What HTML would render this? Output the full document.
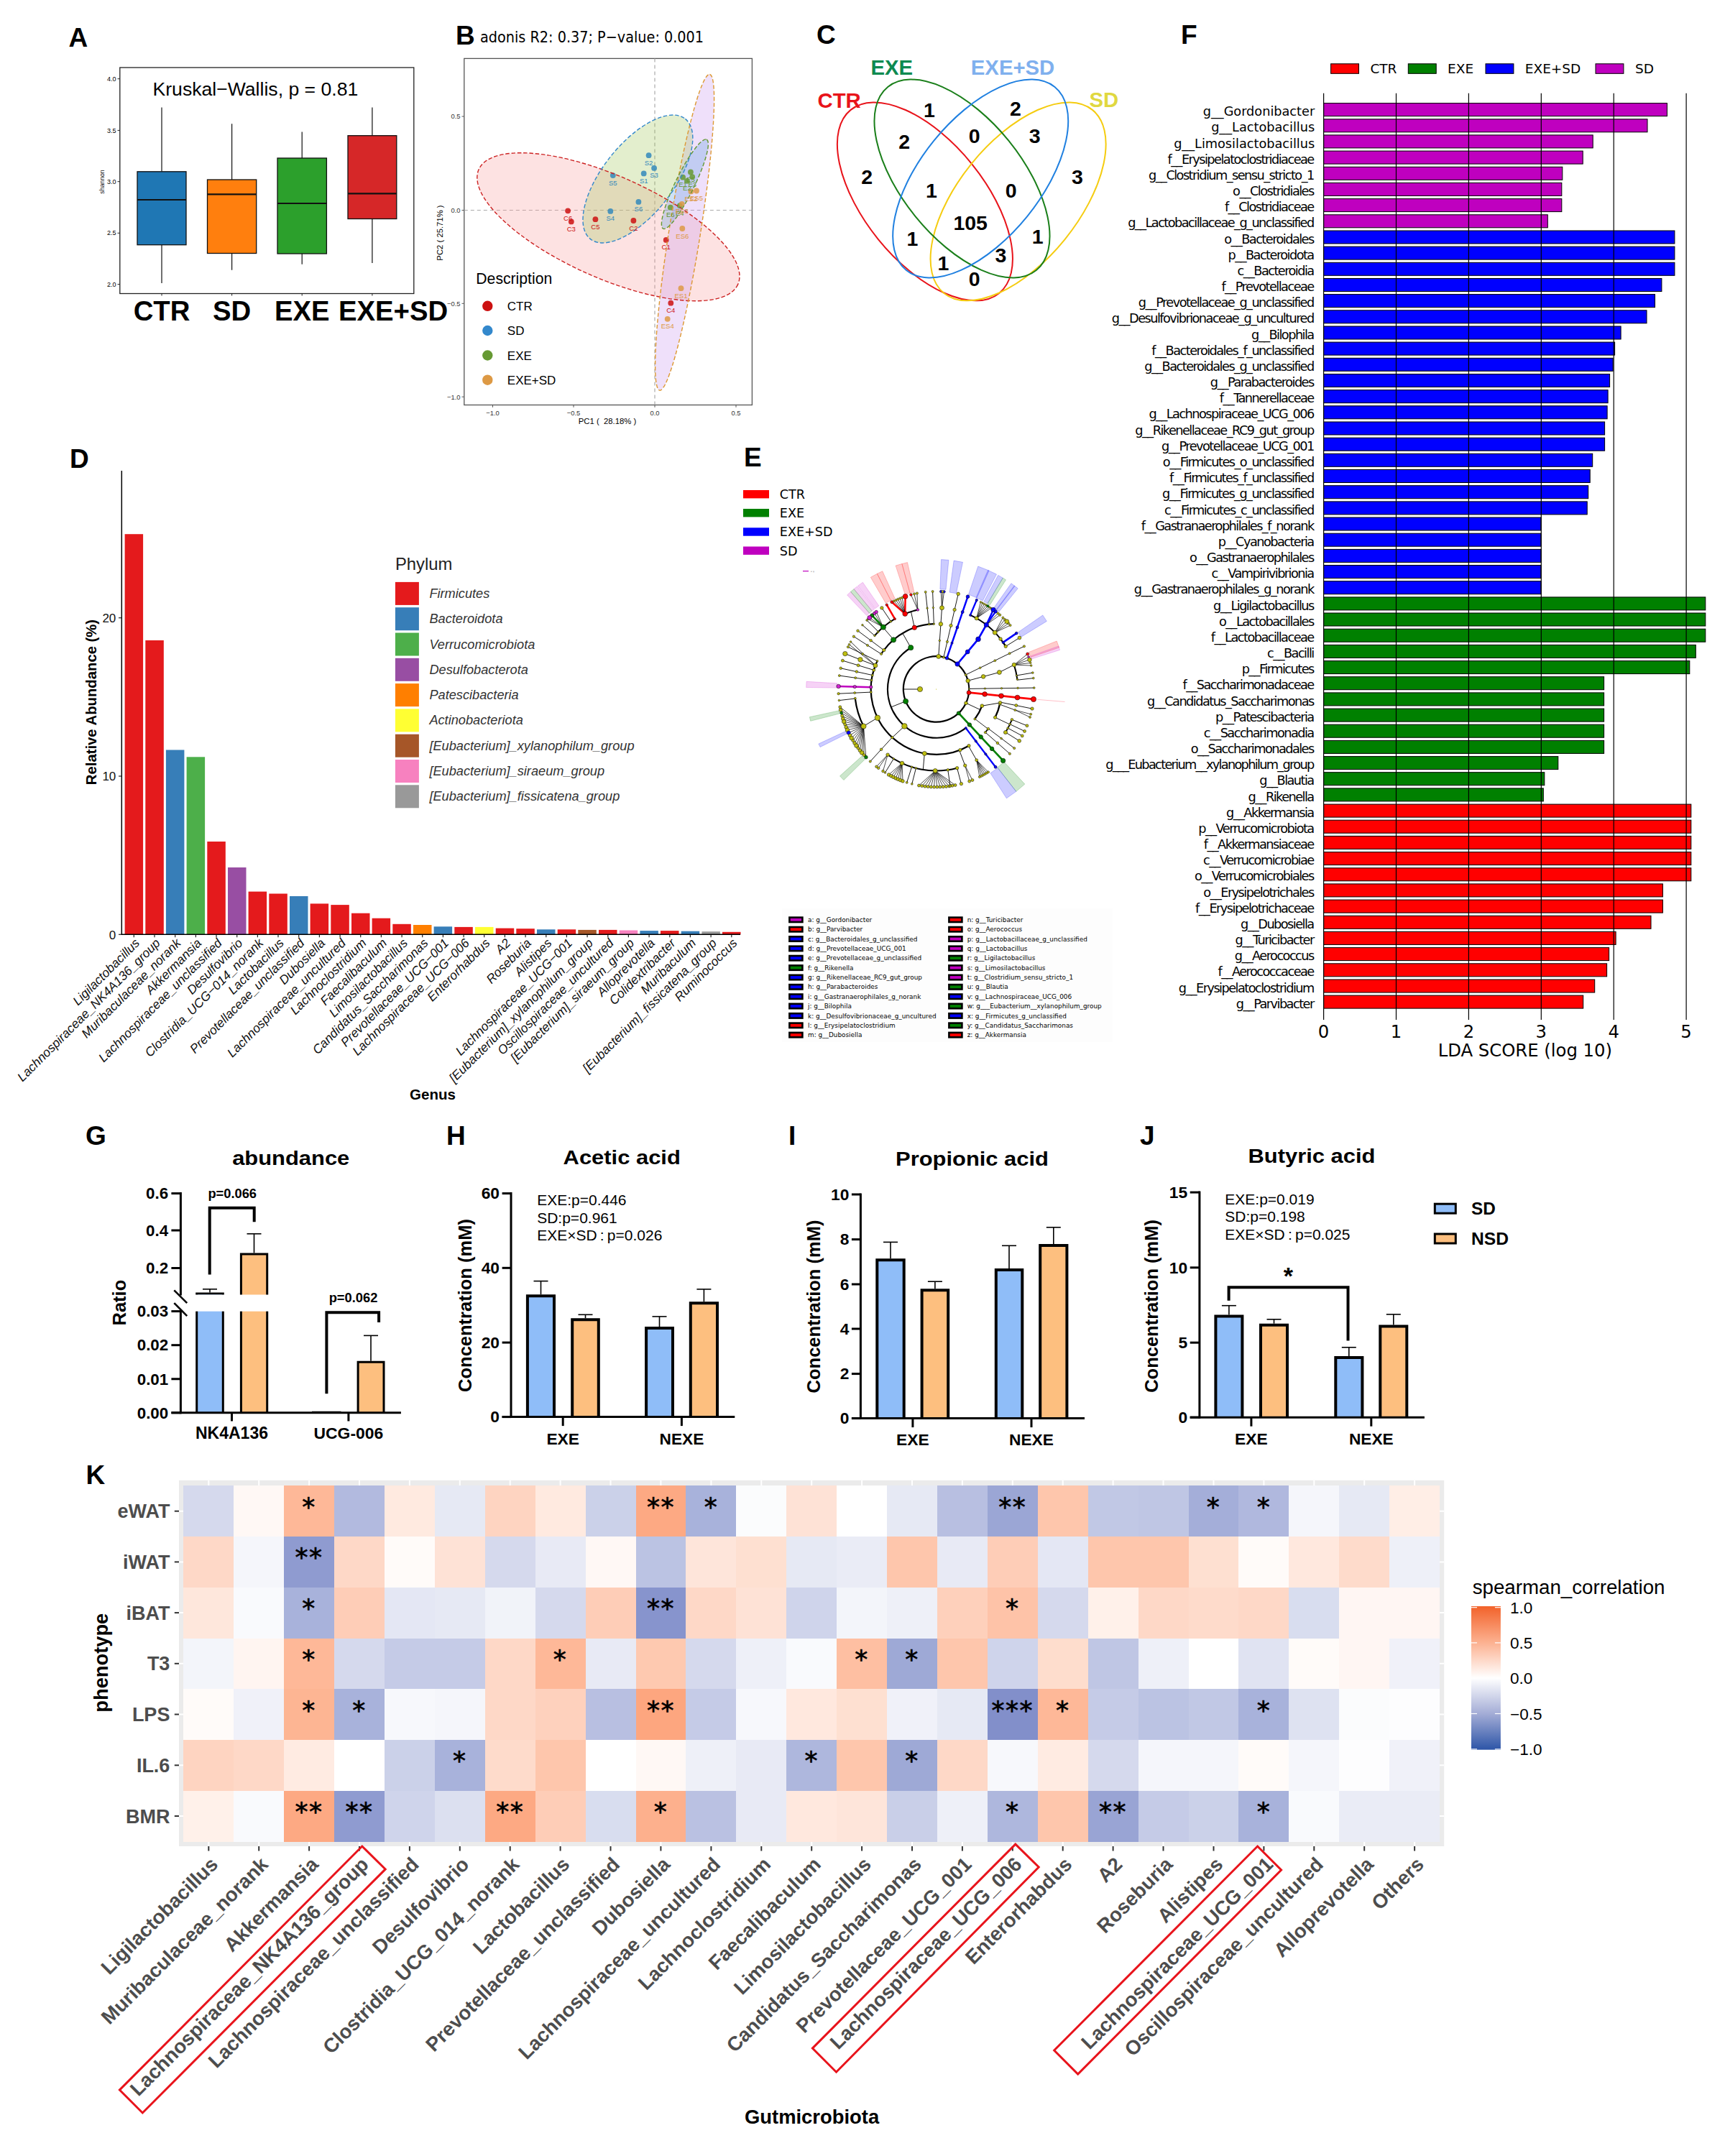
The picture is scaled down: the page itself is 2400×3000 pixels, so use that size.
<!DOCTYPE html>
<html><head><meta charset="utf-8"><title>Figure</title>
<style>html,body{margin:0;padding:0;background:#fff}svg{display:block}</style></head>
<body>
<svg width="2400" height="3000" viewBox="0 0 2400 3000" font-family="Liberation Sans, Arial, sans-serif">
<rect width="2400" height="3000" fill="#fff"/>
<text x="95.5" y="65.0" font-size="37" font-weight="bold">A</text>
<rect x="166.8" y="94.0" width="409.0" height="314.5" fill="#fff" stroke="#222" stroke-width="1.3" />
<line x1="163.5" y1="109.7" x2="166.8" y2="109.7" stroke="#222" stroke-width="1" />
<text x="161.5" y="112.8" font-size="9" text-anchor="end">4.0</text>
<line x1="163.5" y1="181.4" x2="166.8" y2="181.4" stroke="#222" stroke-width="1" />
<text x="161.5" y="184.5" font-size="9" text-anchor="end">3.5</text>
<line x1="163.5" y1="252.7" x2="166.8" y2="252.7" stroke="#222" stroke-width="1" />
<text x="161.5" y="255.8" font-size="9" text-anchor="end">3.0</text>
<line x1="163.5" y1="324.3" x2="166.8" y2="324.3" stroke="#222" stroke-width="1" />
<text x="161.5" y="327.4" font-size="9" text-anchor="end">2.5</text>
<line x1="163.5" y1="395.6" x2="166.8" y2="395.6" stroke="#222" stroke-width="1" />
<text x="161.5" y="398.7" font-size="9" text-anchor="end">2.0</text>
<text x="144.5" y="253.0" font-size="8.7" text-anchor="middle" fill="#111" transform="rotate(-90 144.5 253.0)">shannon</text>
<line x1="225.0" y1="149.4" x2="225.0" y2="238.8" stroke="#111" stroke-width="1.2" />
<line x1="225.0" y1="340.7" x2="225.0" y2="394.0" stroke="#111" stroke-width="1.2" />
<rect x="191.0" y="238.8" width="68.0" height="101.9" fill="#1f77b4" stroke="#111" stroke-width="1.3" />
<line x1="191.0" y1="278.0" x2="259.0" y2="278.0" stroke="#111" stroke-width="2.2" />
<line x1="225.0" y1="408.5" x2="225.0" y2="411.5" stroke="#222" stroke-width="1" />
<line x1="322.6" y1="172.3" x2="322.6" y2="250.0" stroke="#111" stroke-width="1.2" />
<line x1="322.6" y1="352.5" x2="322.6" y2="375.8" stroke="#111" stroke-width="1.2" />
<rect x="288.5" y="250.0" width="68.2" height="102.5" fill="#ff7f0e" stroke="#111" stroke-width="1.3" />
<line x1="288.5" y1="270.4" x2="356.7" y2="270.4" stroke="#111" stroke-width="2.2" />
<line x1="322.6" y1="408.5" x2="322.6" y2="411.5" stroke="#222" stroke-width="1" />
<line x1="420.2" y1="183.5" x2="420.2" y2="220.0" stroke="#111" stroke-width="1.2" />
<line x1="420.2" y1="353.0" x2="420.2" y2="367.8" stroke="#111" stroke-width="1.2" />
<rect x="386.0" y="220.0" width="68.4" height="133.0" fill="#2ca02c" stroke="#111" stroke-width="1.3" />
<line x1="386.0" y1="283.0" x2="454.4" y2="283.0" stroke="#111" stroke-width="2.2" />
<line x1="420.2" y1="408.5" x2="420.2" y2="411.5" stroke="#222" stroke-width="1" />
<line x1="517.9" y1="149.4" x2="517.9" y2="188.7" stroke="#111" stroke-width="1.2" />
<line x1="517.9" y1="304.5" x2="517.9" y2="366.0" stroke="#111" stroke-width="1.2" />
<rect x="484.0" y="188.7" width="67.8" height="115.8" fill="#d62728" stroke="#111" stroke-width="1.3" />
<line x1="484.0" y1="269.4" x2="551.8" y2="269.4" stroke="#111" stroke-width="2.2" />
<line x1="517.9" y1="408.5" x2="517.9" y2="411.5" stroke="#222" stroke-width="1" />
<text x="212.5" y="133.2" font-size="26.6">Kruskal−Wallis, p = 0.81</text>
<text x="225.0" y="446.0" font-size="38.3" text-anchor="middle" font-weight="bold">CTR</text>
<text x="322.6" y="446.0" font-size="38.3" text-anchor="middle" font-weight="bold">SD</text>
<text x="420.2" y="446.0" font-size="38.3" text-anchor="middle" font-weight="bold">EXE</text>
<text x="547.0" y="446.0" font-size="38.3" text-anchor="middle" font-weight="bold">EXE+SD</text>
<text x="634.0" y="62.0" font-size="37" font-weight="bold">B</text>
<text x="668.0" y="59.0" font-size="21.4" font-family="DejaVu Sans Condensed, DejaVu Sans, sans-serif">adonis R2: 0.37; P−value: 0.001</text>
<rect x="645.8" y="81.4" width="400.6" height="482.1" fill="#fff" stroke="#555" stroke-width="1.3" />
<line x1="911.0" y1="81.4" x2="911.0" y2="563.5" stroke="#aaa" stroke-width="1.2" stroke-dasharray="5 4"/>
<line x1="645.8" y1="292.5" x2="1046.4" y2="292.5" stroke="#aaa" stroke-width="1.2" stroke-dasharray="5 4"/>
<ellipse cx="846.4" cy="315.7" rx="197.2" ry="71.1" transform="rotate(23.9 846.4 315.7)" fill="#f8a0a0" fill-opacity="0.3"/>
<ellipse cx="952.6" cy="323.3" rx="222.6" ry="21.9" transform="rotate(-81 952.6 323.3)" fill="#ca98ee" fill-opacity="0.3"/>
<ellipse cx="887.4" cy="249.0" rx="106.5" ry="49.1" transform="rotate(-51.7 887.4 249.0)" fill="#a2c658" fill-opacity="0.3"/>
<ellipse cx="952.9" cy="256.2" rx="69.0" ry="13.2" transform="rotate(-64 952.9 256.2)" fill="#5a9ee0" fill-opacity="0.3"/>
<circle cx="790.1" cy="293.3" r="3.9" fill="#cc1111" fill-opacity="0.85"/>
<circle cx="794.8" cy="308.4" r="3.9" fill="#cc1111" fill-opacity="0.85"/>
<circle cx="828.4" cy="305.2" r="3.9" fill="#cc1111" fill-opacity="0.85"/>
<circle cx="881.4" cy="307.0" r="3.9" fill="#cc1111" fill-opacity="0.85"/>
<circle cx="926.7" cy="333.9" r="3.9" fill="#cc1111" fill-opacity="0.85"/>
<circle cx="933.3" cy="421.7" r="3.9" fill="#cc1111" fill-opacity="0.85"/>
<circle cx="902.6" cy="216.2" r="3.9" fill="#3388bb" fill-opacity="0.85"/>
<circle cx="910.1" cy="233.9" r="3.9" fill="#3388bb" fill-opacity="0.85"/>
<circle cx="895.7" cy="241.4" r="3.9" fill="#3388bb" fill-opacity="0.85"/>
<circle cx="852.8" cy="244.1" r="3.9" fill="#3388bb" fill-opacity="0.85"/>
<circle cx="888.4" cy="280.9" r="3.9" fill="#3388bb" fill-opacity="0.85"/>
<circle cx="849.3" cy="293.9" r="3.9" fill="#3388bb" fill-opacity="0.85"/>
<circle cx="950.1" cy="246.7" r="3.9" fill="#669933" fill-opacity="0.85"/>
<circle cx="960.9" cy="239.4" r="3.9" fill="#669933" fill-opacity="0.85"/>
<circle cx="963.2" cy="246.1" r="3.9" fill="#669933" fill-opacity="0.85"/>
<circle cx="955.9" cy="251.9" r="3.9" fill="#669933" fill-opacity="0.85"/>
<circle cx="932.8" cy="288.7" r="3.9" fill="#669933" fill-opacity="0.85"/>
<circle cx="945.8" cy="286.1" r="3.9" fill="#669933" fill-opacity="0.85"/>
<circle cx="961.4" cy="266.4" r="3.9" fill="#dd9944" fill-opacity="0.85"/>
<circle cx="969.0" cy="265.5" r="3.9" fill="#dd9944" fill-opacity="0.85"/>
<circle cx="948.7" cy="283.8" r="3.9" fill="#dd9944" fill-opacity="0.85"/>
<circle cx="949.3" cy="318.0" r="3.9" fill="#dd9944" fill-opacity="0.85"/>
<circle cx="947.5" cy="401.2" r="3.9" fill="#dd9944" fill-opacity="0.85"/>
<circle cx="928.7" cy="443.8" r="3.9" fill="#dd9944" fill-opacity="0.85"/>
<ellipse cx="846.4" cy="315.7" rx="197.2" ry="71.1" transform="rotate(23.9 846.4 315.7)" fill="none" stroke="#cc2222" stroke-width="1.4" stroke-dasharray="5.5 2.8"/>
<ellipse cx="952.6" cy="323.3" rx="222.6" ry="21.9" transform="rotate(-81 952.6 323.3)" fill="none" stroke="#dd9933" stroke-width="1.4" stroke-dasharray="5.5 2.8"/>
<ellipse cx="887.4" cy="249.0" rx="106.5" ry="49.1" transform="rotate(-51.7 887.4 249.0)" fill="none" stroke="#3388cc" stroke-width="1.4" stroke-dasharray="5.5 2.8"/>
<ellipse cx="952.9" cy="256.2" rx="69.0" ry="13.2" transform="rotate(-64 952.9 256.2)" fill="none" stroke="#669933" stroke-width="1.4" stroke-dasharray="5.5 2.8"/>
<text x="790.1" y="306.8" font-size="9.5" text-anchor="middle" fill="#cc1111">C6</text>
<text x="794.8" y="321.9" font-size="9.5" text-anchor="middle" fill="#cc1111">C3</text>
<text x="828.4" y="318.7" font-size="9.5" text-anchor="middle" fill="#cc1111">C5</text>
<text x="881.4" y="320.5" font-size="9.5" text-anchor="middle" fill="#cc1111">C2</text>
<text x="926.7" y="347.4" font-size="9.5" text-anchor="middle" fill="#cc1111">C1</text>
<text x="933.3" y="435.2" font-size="9.5" text-anchor="middle" fill="#cc1111">C4</text>
<text x="902.6" y="229.7" font-size="9.5" text-anchor="middle" fill="#3388bb">S2</text>
<text x="910.1" y="247.4" font-size="9.5" text-anchor="middle" fill="#3388bb">S3</text>
<text x="895.7" y="254.9" font-size="9.5" text-anchor="middle" fill="#3388bb">S1</text>
<text x="852.8" y="257.6" font-size="9.5" text-anchor="middle" fill="#3388bb">S5</text>
<text x="888.4" y="294.4" font-size="9.5" text-anchor="middle" fill="#3388bb">S6</text>
<text x="849.3" y="307.4" font-size="9.5" text-anchor="middle" fill="#3388bb">S4</text>
<text x="950.1" y="260.2" font-size="9.5" text-anchor="middle" fill="#669933">E1</text>
<text x="960.9" y="252.9" font-size="9.5" text-anchor="middle" fill="#669933">E5</text>
<text x="963.2" y="259.6" font-size="9.5" text-anchor="middle" fill="#669933">E3</text>
<text x="955.9" y="265.4" font-size="9.5" text-anchor="middle" fill="#669933">E2</text>
<text x="932.8" y="302.2" font-size="9.5" text-anchor="middle" fill="#669933">E6</text>
<text x="945.8" y="299.6" font-size="9.5" text-anchor="middle" fill="#669933">E4</text>
<text x="961.4" y="279.9" font-size="9.5" text-anchor="middle" fill="#dd9944">ES2</text>
<text x="969.0" y="279.0" font-size="9.5" text-anchor="middle" fill="#dd9944">ES5</text>
<text x="948.7" y="297.3" font-size="9.5" text-anchor="middle" fill="#dd9944">ES3</text>
<text x="949.3" y="331.5" font-size="9.5" text-anchor="middle" fill="#dd9944">ES6</text>
<text x="947.5" y="414.7" font-size="9.5" text-anchor="middle" fill="#dd9944">ES1</text>
<text x="928.7" y="457.3" font-size="9.5" text-anchor="middle" fill="#dd9944">ES4</text>
<line x1="642.5" y1="162.0" x2="645.8" y2="162.0" stroke="#555" stroke-width="1" />
<text x="640.5" y="165.3" font-size="9.4" text-anchor="end" fill="#333">0.5</text>
<line x1="642.5" y1="292.5" x2="645.8" y2="292.5" stroke="#555" stroke-width="1" />
<text x="640.5" y="295.8" font-size="9.4" text-anchor="end" fill="#333">0.0</text>
<line x1="642.5" y1="422.3" x2="645.8" y2="422.3" stroke="#555" stroke-width="1" />
<text x="640.5" y="425.6" font-size="9.4" text-anchor="end" fill="#333">−0.5</text>
<line x1="642.5" y1="552.2" x2="645.8" y2="552.2" stroke="#555" stroke-width="1" />
<text x="640.5" y="555.5" font-size="9.4" text-anchor="end" fill="#333">−1.0</text>
<line x1="685.5" y1="563.5" x2="685.5" y2="566.8" stroke="#555" stroke-width="1" />
<text x="685.5" y="577.5" font-size="9.4" text-anchor="middle" fill="#333">−1.0</text>
<line x1="798.0" y1="563.5" x2="798.0" y2="566.8" stroke="#555" stroke-width="1" />
<text x="798.0" y="577.5" font-size="9.4" text-anchor="middle" fill="#333">−0.5</text>
<line x1="911.0" y1="563.5" x2="911.0" y2="566.8" stroke="#555" stroke-width="1" />
<text x="911.0" y="577.5" font-size="9.4" text-anchor="middle" fill="#333">0.0</text>
<line x1="1024.0" y1="563.5" x2="1024.0" y2="566.8" stroke="#555" stroke-width="1" />
<text x="1024.0" y="577.5" font-size="9.4" text-anchor="middle" fill="#333">0.5</text>
<text x="845.0" y="590.0" font-size="11.3" text-anchor="middle">PC1 (  28.18% )</text>
<text x="616.0" y="324.0" font-size="11.3" text-anchor="middle" transform="rotate(-90 616.0 324.0)">PC2 ( 25.71% )</text>
<text x="662.3" y="394.5" font-size="21.2">Description</text>
<circle cx="678.3" cy="425.8" r="7.2" fill="#cc1111" />
<text x="705.8" y="431.8" font-size="17">CTR</text>
<circle cx="678.3" cy="460.0" r="7.2" fill="#3388cc" />
<text x="705.8" y="466.0" font-size="17">SD</text>
<circle cx="678.3" cy="494.5" r="7.2" fill="#669933" />
<text x="705.8" y="500.5" font-size="17">EXE</text>
<circle cx="678.3" cy="528.7" r="7.2" fill="#dd9944" />
<text x="705.8" y="534.7" font-size="17">EXE+SD</text>
<text x="1136.0" y="60.5" font-size="37" font-weight="bold">C</text>
<ellipse cx="1286.9" cy="280.4" rx="164.1" ry="83.6" transform="rotate(51 1286.9 280.4)" fill="none" stroke="#e8131a" stroke-width="2" />
<ellipse cx="1416.6" cy="280.4" rx="164.1" ry="83.6" transform="rotate(-51 1416.6 280.4)" fill="none" stroke="#f5cc10" stroke-width="2" />
<ellipse cx="1338.5" cy="248.5" rx="164.1" ry="83.6" transform="rotate(51 1338.5 248.5)" fill="none" stroke="#1a7f1a" stroke-width="2" />
<ellipse cx="1364.2" cy="248.5" rx="164.1" ry="83.6" transform="rotate(-51 1364.2 248.5)" fill="none" stroke="#2080e0" stroke-width="2" />
<text x="1137.5" y="150.0" font-size="29.3" font-weight="bold" fill="#e8131a">CTR</text>
<text x="1211.5" y="104.2" font-size="29.3" font-weight="bold" fill="#0e8a50">EXE</text>
<text x="1350.8" y="104.2" font-size="29.3" font-weight="bold" fill="#7fb0ee">EXE+SD</text>
<text x="1515.4" y="149.4" font-size="29.3" font-weight="bold" fill="#e0d840">SD</text>
<text x="1293.0" y="163.3" font-size="28.5" text-anchor="middle" font-weight="bold">1</text>
<text x="1413.0" y="161.4" font-size="28.5" text-anchor="middle" font-weight="bold">2</text>
<text x="1258.3" y="206.7" font-size="28.5" text-anchor="middle" font-weight="bold">2</text>
<text x="1355.7" y="199.1" font-size="28.5" text-anchor="middle" font-weight="bold">0</text>
<text x="1439.8" y="198.5" font-size="28.5" text-anchor="middle" font-weight="bold">3</text>
<text x="1206.1" y="255.8" font-size="28.5" text-anchor="middle" font-weight="bold">2</text>
<text x="1498.9" y="255.8" font-size="28.5" text-anchor="middle" font-weight="bold">3</text>
<text x="1296.0" y="274.5" font-size="28.5" text-anchor="middle" font-weight="bold">1</text>
<text x="1406.6" y="274.5" font-size="28.5" text-anchor="middle" font-weight="bold">0</text>
<text x="1350.2" y="319.7" font-size="28.5" text-anchor="middle" font-weight="bold">105</text>
<text x="1269.4" y="342.3" font-size="28.5" text-anchor="middle" font-weight="bold">1</text>
<text x="1443.7" y="338.7" font-size="28.5" text-anchor="middle" font-weight="bold">1</text>
<text x="1392.4" y="364.9" font-size="28.5" text-anchor="middle" font-weight="bold">3</text>
<text x="1312.5" y="375.8" font-size="28.5" text-anchor="middle" font-weight="bold">1</text>
<text x="1355.7" y="397.5" font-size="28.5" text-anchor="middle" font-weight="bold">0</text>
<text x="97.0" y="651.0" font-size="37" font-weight="bold">D</text>
<rect x="173.6" y="743.2" width="25.5" height="557.1" fill="#e41a1c" />
<line x1="186.3" y1="1300.3" x2="186.3" y2="1304.3" stroke="#222" stroke-width="1.2" />
<text x="195.3" y="1313.3" font-size="17.5" text-anchor="end" fill="#111" font-style="italic" transform="rotate(-45 195.3 1313.3)">Ligilactobacillus</text>
<rect x="202.3" y="891.0" width="25.5" height="409.3" fill="#e41a1c" />
<line x1="215.0" y1="1300.3" x2="215.0" y2="1304.3" stroke="#222" stroke-width="1.2" />
<text x="224.0" y="1313.3" font-size="17.5" text-anchor="end" fill="#111" font-style="italic" transform="rotate(-45 224.0 1313.3)">Lachnospiraceae_NK4A136_group</text>
<rect x="230.9" y="1043.5" width="25.5" height="256.8" fill="#377eb8" />
<line x1="243.7" y1="1300.3" x2="243.7" y2="1304.3" stroke="#222" stroke-width="1.2" />
<text x="252.7" y="1313.3" font-size="17.5" text-anchor="end" fill="#111" font-style="italic" transform="rotate(-45 252.7 1313.3)">Muribaculaceae_norank</text>
<rect x="259.6" y="1053.3" width="25.5" height="247.0" fill="#4daf4a" />
<line x1="272.4" y1="1300.3" x2="272.4" y2="1304.3" stroke="#222" stroke-width="1.2" />
<text x="281.4" y="1313.3" font-size="17.5" text-anchor="end" fill="#111" font-style="italic" transform="rotate(-45 281.4 1313.3)">Akkermansia</text>
<rect x="288.3" y="1171.0" width="25.5" height="129.3" fill="#e41a1c" />
<line x1="301.0" y1="1300.3" x2="301.0" y2="1304.3" stroke="#222" stroke-width="1.2" />
<text x="310.0" y="1313.3" font-size="17.5" text-anchor="end" fill="#111" font-style="italic" transform="rotate(-45 310.0 1313.3)">Lachnospiraceae_unclassified</text>
<rect x="317.0" y="1207.0" width="25.5" height="93.3" fill="#984ea3" />
<line x1="329.7" y1="1300.3" x2="329.7" y2="1304.3" stroke="#222" stroke-width="1.2" />
<text x="338.7" y="1313.3" font-size="17.5" text-anchor="end" fill="#111" font-style="italic" transform="rotate(-45 338.7 1313.3)">Desulfovibrio</text>
<rect x="345.6" y="1240.6" width="25.5" height="59.7" fill="#e41a1c" />
<line x1="358.4" y1="1300.3" x2="358.4" y2="1304.3" stroke="#222" stroke-width="1.2" />
<text x="367.4" y="1313.3" font-size="17.5" text-anchor="end" fill="#111" font-style="italic" transform="rotate(-45 367.4 1313.3)">Clostridia_UCG−014_norank</text>
<rect x="374.3" y="1243.5" width="25.5" height="56.8" fill="#e41a1c" />
<line x1="387.0" y1="1300.3" x2="387.0" y2="1304.3" stroke="#222" stroke-width="1.2" />
<text x="396.0" y="1313.3" font-size="17.5" text-anchor="end" fill="#111" font-style="italic" transform="rotate(-45 396.0 1313.3)">Lactobacillus</text>
<rect x="403.0" y="1247.0" width="25.5" height="53.3" fill="#377eb8" />
<line x1="415.7" y1="1300.3" x2="415.7" y2="1304.3" stroke="#222" stroke-width="1.2" />
<text x="424.7" y="1313.3" font-size="17.5" text-anchor="end" fill="#111" font-style="italic" transform="rotate(-45 424.7 1313.3)">Prevotellaceae_unclassified</text>
<rect x="431.6" y="1257.4" width="25.5" height="42.9" fill="#e41a1c" />
<line x1="444.4" y1="1300.3" x2="444.4" y2="1304.3" stroke="#222" stroke-width="1.2" />
<text x="453.4" y="1313.3" font-size="17.5" text-anchor="end" fill="#111" font-style="italic" transform="rotate(-45 453.4 1313.3)">Dubosiella</text>
<rect x="460.3" y="1259.1" width="25.5" height="41.2" fill="#e41a1c" />
<line x1="473.1" y1="1300.3" x2="473.1" y2="1304.3" stroke="#222" stroke-width="1.2" />
<text x="482.1" y="1313.3" font-size="17.5" text-anchor="end" fill="#111" font-style="italic" transform="rotate(-45 482.1 1313.3)">Lachnospiraceae_uncultured</text>
<rect x="489.0" y="1270.7" width="25.5" height="29.6" fill="#e41a1c" />
<line x1="501.7" y1="1300.3" x2="501.7" y2="1304.3" stroke="#222" stroke-width="1.2" />
<text x="510.7" y="1313.3" font-size="17.5" text-anchor="end" fill="#111" font-style="italic" transform="rotate(-45 510.7 1313.3)">Lachnoclostridium</text>
<rect x="517.6" y="1277.7" width="25.5" height="22.6" fill="#e41a1c" />
<line x1="530.4" y1="1300.3" x2="530.4" y2="1304.3" stroke="#222" stroke-width="1.2" />
<text x="539.4" y="1313.3" font-size="17.5" text-anchor="end" fill="#111" font-style="italic" transform="rotate(-45 539.4 1313.3)">Faecalibaculum</text>
<rect x="546.3" y="1285.8" width="25.5" height="14.5" fill="#e41a1c" />
<line x1="559.1" y1="1300.3" x2="559.1" y2="1304.3" stroke="#222" stroke-width="1.2" />
<text x="568.1" y="1313.3" font-size="17.5" text-anchor="end" fill="#111" font-style="italic" transform="rotate(-45 568.1 1313.3)">Limosilactobacillus</text>
<rect x="575.0" y="1287.0" width="25.5" height="13.3" fill="#ff7f00" />
<line x1="587.7" y1="1300.3" x2="587.7" y2="1304.3" stroke="#222" stroke-width="1.2" />
<text x="596.7" y="1313.3" font-size="17.5" text-anchor="end" fill="#111" font-style="italic" transform="rotate(-45 596.7 1313.3)">Candidatus_Saccharimonas</text>
<rect x="603.6" y="1289.3" width="25.5" height="11.0" fill="#377eb8" />
<line x1="616.4" y1="1300.3" x2="616.4" y2="1304.3" stroke="#222" stroke-width="1.2" />
<text x="625.4" y="1313.3" font-size="17.5" text-anchor="end" fill="#111" font-style="italic" transform="rotate(-45 625.4 1313.3)">Prevotellaceae_UCG−001</text>
<rect x="632.3" y="1289.9" width="25.5" height="10.4" fill="#e41a1c" />
<line x1="645.1" y1="1300.3" x2="645.1" y2="1304.3" stroke="#222" stroke-width="1.2" />
<text x="654.1" y="1313.3" font-size="17.5" text-anchor="end" fill="#111" font-style="italic" transform="rotate(-45 654.1 1313.3)">Lachnospiraceae_UCG−006</text>
<rect x="661.0" y="1289.9" width="25.5" height="10.4" fill="#ffff33" />
<line x1="673.7" y1="1300.3" x2="673.7" y2="1304.3" stroke="#222" stroke-width="1.2" />
<text x="682.7" y="1313.3" font-size="17.5" text-anchor="end" fill="#111" font-style="italic" transform="rotate(-45 682.7 1313.3)">Enterorhabdus</text>
<rect x="689.7" y="1291.6" width="25.5" height="8.7" fill="#e41a1c" />
<line x1="702.4" y1="1300.3" x2="702.4" y2="1304.3" stroke="#222" stroke-width="1.2" />
<text x="711.4" y="1313.3" font-size="17.5" text-anchor="end" fill="#111" font-style="italic" transform="rotate(-45 711.4 1313.3)">A2</text>
<rect x="718.3" y="1292.2" width="25.5" height="8.1" fill="#e41a1c" />
<line x1="731.1" y1="1300.3" x2="731.1" y2="1304.3" stroke="#222" stroke-width="1.2" />
<text x="740.1" y="1313.3" font-size="17.5" text-anchor="end" fill="#111" font-style="italic" transform="rotate(-45 740.1 1313.3)">Roseburia</text>
<rect x="747.0" y="1293.3" width="25.5" height="7.0" fill="#377eb8" />
<line x1="759.8" y1="1300.3" x2="759.8" y2="1304.3" stroke="#222" stroke-width="1.2" />
<text x="768.8" y="1313.3" font-size="17.5" text-anchor="end" fill="#111" font-style="italic" transform="rotate(-45 768.8 1313.3)">Alistipes</text>
<rect x="775.7" y="1293.3" width="25.5" height="7.0" fill="#e41a1c" />
<line x1="788.4" y1="1300.3" x2="788.4" y2="1304.3" stroke="#222" stroke-width="1.2" />
<text x="797.4" y="1313.3" font-size="17.5" text-anchor="end" fill="#111" font-style="italic" transform="rotate(-45 797.4 1313.3)">Lachnospiraceae_UCG−001</text>
<rect x="804.3" y="1293.9" width="25.5" height="6.4" fill="#a65628" />
<line x1="817.1" y1="1300.3" x2="817.1" y2="1304.3" stroke="#222" stroke-width="1.2" />
<text x="826.1" y="1313.3" font-size="17.5" text-anchor="end" fill="#111" font-style="italic" transform="rotate(-45 826.1 1313.3)">[Eubacterium]_xylanophilum_group</text>
<rect x="833.0" y="1293.9" width="25.5" height="6.4" fill="#e41a1c" />
<line x1="845.8" y1="1300.3" x2="845.8" y2="1304.3" stroke="#222" stroke-width="1.2" />
<text x="854.8" y="1313.3" font-size="17.5" text-anchor="end" fill="#111" font-style="italic" transform="rotate(-45 854.8 1313.3)">Oscillospiraceae_uncultured</text>
<rect x="861.7" y="1294.5" width="25.5" height="5.8" fill="#f781bf" />
<line x1="874.4" y1="1300.3" x2="874.4" y2="1304.3" stroke="#222" stroke-width="1.2" />
<text x="883.4" y="1313.3" font-size="17.5" text-anchor="end" fill="#111" font-style="italic" transform="rotate(-45 883.4 1313.3)">[Eubacterium]_siraeum_group</text>
<rect x="890.4" y="1295.1" width="25.5" height="5.2" fill="#377eb8" />
<line x1="903.1" y1="1300.3" x2="903.1" y2="1304.3" stroke="#222" stroke-width="1.2" />
<text x="912.1" y="1313.3" font-size="17.5" text-anchor="end" fill="#111" font-style="italic" transform="rotate(-45 912.1 1313.3)">Alloprevotella</text>
<rect x="919.0" y="1295.1" width="25.5" height="5.2" fill="#e41a1c" />
<line x1="931.8" y1="1300.3" x2="931.8" y2="1304.3" stroke="#222" stroke-width="1.2" />
<text x="940.8" y="1313.3" font-size="17.5" text-anchor="end" fill="#111" font-style="italic" transform="rotate(-45 940.8 1313.3)">Colidextribacter</text>
<rect x="947.7" y="1295.7" width="25.5" height="4.6" fill="#377eb8" />
<line x1="960.4" y1="1300.3" x2="960.4" y2="1304.3" stroke="#222" stroke-width="1.2" />
<text x="969.4" y="1313.3" font-size="17.5" text-anchor="end" fill="#111" font-style="italic" transform="rotate(-45 969.4 1313.3)">Muribaculum</text>
<rect x="976.4" y="1296.2" width="25.5" height="4.1" fill="#999999" />
<line x1="989.1" y1="1300.3" x2="989.1" y2="1304.3" stroke="#222" stroke-width="1.2" />
<text x="998.1" y="1313.3" font-size="17.5" text-anchor="end" fill="#111" font-style="italic" transform="rotate(-45 998.1 1313.3)">[Eubacterium]_fissicatena_group</text>
<rect x="1005.0" y="1296.8" width="25.5" height="3.5" fill="#e41a1c" />
<line x1="1017.8" y1="1300.3" x2="1017.8" y2="1304.3" stroke="#222" stroke-width="1.2" />
<text x="1026.8" y="1313.3" font-size="17.5" text-anchor="end" fill="#111" font-style="italic" transform="rotate(-45 1026.8 1313.3)">Ruminococcus</text>
<line x1="169.3" y1="655.0" x2="169.3" y2="1301.0" stroke="#000" stroke-width="1.5" />
<line x1="168.5" y1="1300.3" x2="1030.0" y2="1300.3" stroke="#000" stroke-width="1.5" />
<line x1="165.0" y1="859.7" x2="169.0" y2="859.7" stroke="#222" stroke-width="1.2" />
<text x="161.3" y="865.9" font-size="17" text-anchor="end" fill="#111">20</text>
<line x1="165.0" y1="1080.0" x2="169.0" y2="1080.0" stroke="#222" stroke-width="1.2" />
<text x="161.3" y="1086.2" font-size="17" text-anchor="end" fill="#111">10</text>
<line x1="165.0" y1="1300.3" x2="169.0" y2="1300.3" stroke="#222" stroke-width="1.2" />
<text x="161.3" y="1306.5" font-size="17" text-anchor="end" fill="#111">0</text>
<text x="134.4" y="977.0" font-size="20.3" text-anchor="middle" font-weight="bold" transform="rotate(-90 134.4 977.0)">Relative Abundance (%)</text>
<text x="602.0" y="1530.4" font-size="20.5" text-anchor="middle" font-weight="bold">Genus</text>
<text x="549.9" y="793.0" font-size="23.8" fill="#222">Phylum</text>
<rect x="549.9" y="809.9" width="33.0" height="32.0" fill="#e41a1c" />
<text x="597.4" y="831.9" font-size="18.2" fill="#333" font-style="italic">Firmicutes</text>
<rect x="549.9" y="845.2" width="33.0" height="32.0" fill="#377eb8" />
<text x="597.4" y="867.2" font-size="18.2" fill="#333" font-style="italic">Bacteroidota</text>
<rect x="549.9" y="880.5" width="33.0" height="32.0" fill="#4daf4a" />
<text x="597.4" y="902.5" font-size="18.2" fill="#333" font-style="italic">Verrucomicrobiota</text>
<rect x="549.9" y="915.8" width="33.0" height="32.0" fill="#984ea3" />
<text x="597.4" y="937.8" font-size="18.2" fill="#333" font-style="italic">Desulfobacterota</text>
<rect x="549.9" y="951.1" width="33.0" height="32.0" fill="#ff7f00" />
<text x="597.4" y="973.1" font-size="18.2" fill="#333" font-style="italic">Patescibacteria</text>
<rect x="549.9" y="986.4" width="33.0" height="32.0" fill="#ffff33" />
<text x="597.4" y="1008.4" font-size="18.2" fill="#333" font-style="italic">Actinobacteriota</text>
<rect x="549.9" y="1021.7" width="33.0" height="32.0" fill="#a65628" />
<text x="597.4" y="1043.7" font-size="18.2" fill="#333" font-style="italic">[Eubacterium]_xylanophilum_group</text>
<rect x="549.9" y="1057.0" width="33.0" height="32.0" fill="#f781bf" />
<text x="597.4" y="1079.0" font-size="18.2" fill="#333" font-style="italic">[Eubacterium]_siraeum_group</text>
<rect x="549.9" y="1092.3" width="33.0" height="32.0" fill="#999999" />
<text x="597.4" y="1114.3" font-size="18.2" fill="#333" font-style="italic">[Eubacterium]_fissicatena_group</text>
<text x="1035.0" y="648.5" font-size="37" font-weight="bold">E</text>
<rect x="1034.0" y="682.0" width="36.0" height="11.4" fill="#ff0000" />
<text x="1084.8" y="694.0" font-size="17.6" font-family="DejaVu Sans, sans-serif">CTR</text>
<rect x="1034.0" y="708.0" width="36.0" height="11.4" fill="#008000" />
<text x="1084.8" y="720.0" font-size="17.6" font-family="DejaVu Sans, sans-serif">EXE</text>
<rect x="1034.0" y="734.3" width="36.0" height="11.4" fill="#0000ff" />
<text x="1084.8" y="746.3" font-size="17.6" font-family="DejaVu Sans, sans-serif">EXE+SD</text>
<rect x="1034.0" y="760.5" width="36.0" height="11.4" fill="#bf00bf" />
<text x="1084.8" y="772.5" font-size="17.6" font-family="DejaVu Sans, sans-serif">SD</text>
<line x1="1117.0" y1="794.7" x2="1125.0" y2="794.7" stroke="#bf00bf" stroke-width="1.2" />
<text x="1128.0" y="796.0" font-size="2.5" fill="#555" font-family="DejaVu Sans, sans-serif">a: g</text>
<g><line x1="1443.2" y1="973.3" x2="1481.5" y2="976.5" stroke="#ff8090" stroke-width="0.5"/><polygon points="1316.0,820.3 1319.9,779.3 1309.5,778.6 1307.9,819.8" fill="#0000ff" fill-opacity="0.2" stroke="#0000ff" stroke-opacity="0.45" stroke-width="0.5"/><polygon points="1330.4,825.7 1339.5,782.3 1327.1,780.1 1321.1,824.1" fill="#0000ff" fill-opacity="0.2" stroke="#0000ff" stroke-opacity="0.45" stroke-width="0.5"/><polygon points="1359.2,831.8 1376.1,794.0 1360.8,788.0 1347.5,827.2" fill="#0000ff" fill-opacity="0.2" stroke="#0000ff" stroke-opacity="0.45" stroke-width="0.5"/><polygon points="1367.3,835.8 1386.5,799.1 1374.6,793.4 1358.1,831.4" fill="#0000ff" fill-opacity="0.2" stroke="#0000ff" stroke-opacity="0.45" stroke-width="0.5"/><polygon points="1374.0,839.7 1395.3,804.2 1388.7,800.4 1369.0,836.8" fill="#0000ff" fill-opacity="0.2" stroke="#0000ff" stroke-opacity="0.45" stroke-width="0.5"/><polygon points="1377.3,841.7 1399.5,806.8 1395.3,804.2 1374.0,839.7" fill="#008000" fill-opacity="0.2" stroke="#008000" stroke-opacity="0.45" stroke-width="0.5"/><polygon points="1386.9,848.4 1411.9,815.5 1406.9,811.7 1383.0,845.5" fill="#0000ff" fill-opacity="0.2" stroke="#0000ff" stroke-opacity="0.45" stroke-width="0.5"/><polygon points="1390.1,850.9 1416.2,818.8 1411.2,814.9 1386.3,847.9" fill="#0000ff" fill-opacity="0.2" stroke="#0000ff" stroke-opacity="0.45" stroke-width="0.5"/><polygon points="1420.9,886.2 1456.3,864.4 1450.8,856.0 1416.6,879.7" fill="#0000ff" fill-opacity="0.2" stroke="#0000ff" stroke-opacity="0.45" stroke-width="0.5"/><polygon points="1434.1,914.5 1473.6,901.1 1470.2,892.0 1431.5,907.4" fill="#ff0000" fill-opacity="0.2" stroke="#ff0000" stroke-opacity="0.45" stroke-width="0.5"/><polygon points="1434.9,917.0 1474.6,904.4 1472.8,899.1 1433.6,912.9" fill="#d020d0" fill-opacity="0.2" stroke="#d020d0" stroke-opacity="0.45" stroke-width="0.5"/><polygon points="1387.7,1068.0 1413.8,1101.3 1425.8,1091.1 1396.9,1060.1" fill="#008000" fill-opacity="0.2" stroke="#008000" stroke-opacity="0.45" stroke-width="0.5"/><polygon points="1377.9,1075.8 1400.4,1110.8 1413.8,1101.3 1388.2,1068.5" fill="#0000ff" fill-opacity="0.2" stroke="#0000ff" stroke-opacity="0.45" stroke-width="0.5"/><polygon points="1271.8,823.6 1262.5,782.6 1254.9,784.5 1266.0,825.1" fill="#ff0000" fill-opacity="0.2" stroke="#ff0000" stroke-opacity="0.45" stroke-width="0.5"/><polygon points="1266.0,825.1 1254.9,784.5 1246.1,787.1 1259.2,827.1" fill="#ff0000" fill-opacity="0.2" stroke="#ff0000" stroke-opacity="0.45" stroke-width="0.5"/><polygon points="1245.0,832.6 1227.8,794.8 1220.4,798.3 1239.3,835.4" fill="#ff0000" fill-opacity="0.2" stroke="#ff0000" stroke-opacity="0.45" stroke-width="0.5"/><polygon points="1239.3,835.4 1220.4,798.3 1211.3,803.3 1232.3,839.2" fill="#ff0000" fill-opacity="0.2" stroke="#ff0000" stroke-opacity="0.45" stroke-width="0.5"/><polygon points="1209.6,853.2 1183.5,823.4 1178.6,827.9 1205.8,856.6" fill="#d020d0" fill-opacity="0.2" stroke="#d020d0" stroke-opacity="0.45" stroke-width="0.5"/><polygon points="1213.2,850.1 1188.1,819.6 1183.5,823.4 1209.6,853.2" fill="#008000" fill-opacity="0.2" stroke="#008000" stroke-opacity="0.45" stroke-width="0.5"/><polygon points="1216.6,847.4 1192.5,816.0 1188.1,819.6 1213.2,850.1" fill="#d020d0" fill-opacity="0.2" stroke="#d020d0" stroke-opacity="0.45" stroke-width="0.5"/><polygon points="1222.8,842.9 1200.4,810.3 1193.5,815.2 1217.4,846.8" fill="#d020d0" fill-opacity="0.2" stroke="#d020d0" stroke-opacity="0.45" stroke-width="0.5"/><polygon points="1164.9,950.8 1122.0,948.3 1121.7,956.5 1164.7,957.1" fill="#d020d0" fill-opacity="0.2" stroke="#d020d0" stroke-opacity="0.45" stroke-width="0.5"/><polygon points="1166.8,988.9 1126.4,997.7 1127.7,1003.3 1167.8,993.1" fill="#008000" fill-opacity="0.2" stroke="#008000" stroke-opacity="0.45" stroke-width="0.5"/><polygon points="1176.5,1017.5 1138.9,1035.0 1141.1,1039.5 1178.2,1021.0" fill="#0000ff" fill-opacity="0.2" stroke="#0000ff" stroke-opacity="0.45" stroke-width="0.5"/><polygon points="1199.2,1052.1 1168.5,1079.8 1173.9,1085.5 1203.4,1056.5" fill="#008000" fill-opacity="0.2" stroke="#008000" stroke-opacity="0.45" stroke-width="0.5"/></g>
<g stroke-linecap="round"><line x1="1280.0" y1="959.0" x2="1256.9" y2="959.0" stroke="#000" stroke-width="0.9"/><path d="M1346.5,946.4 A45.7,45.7 0 1 0 1347.9,964.6" fill="none" stroke="#000" stroke-width="2.2"/><path d="M1347.9,964.6 A45.7,45.7 0 0 0 1346.5,946.4" fill="none" stroke="#000" stroke-width="2.0"/><line x1="1305.8" y1="913.4" x2="1310.5" y2="845.8" stroke="#000" stroke-width="0.9"/><line x1="1310.5" y1="845.8" x2="1309.2" y2="823.1" stroke="#000" stroke-width="0.7"/><line x1="1310.5" y1="845.8" x2="1313.5" y2="823.3" stroke="#000" stroke-width="0.7"/><line x1="1310.5" y1="845.8" x2="1311.4" y2="823.2" stroke="#000" stroke-width="0.7"/><line x1="1312.9" y1="914.5" x2="1333.2" y2="826.4" stroke="#000" stroke-width="0.9"/><line x1="1317.3" y1="915.8" x2="1346.5" y2="830.2" stroke="#0000ff" stroke-width="2.5"/><line x1="1332.0" y1="924.0" x2="1361.0" y2="889.4" stroke="#0000ff" stroke-width="2.7"/><line x1="1361.0" y1="889.4" x2="1372.3" y2="869.4" stroke="#0000ff" stroke-width="2.7"/><path d="M1395.6,893.9 A113.5,113.5 0 0 0 1350.0,855.9" fill="none" stroke="#000" stroke-width="2.0"/><line x1="1350.0" y1="855.9" x2="1358.8" y2="835.0" stroke="#0000ff" stroke-width="2.3"/><line x1="1358.7" y1="860.3" x2="1364.4" y2="837.7" stroke="#000" stroke-width="0.7"/><line x1="1358.7" y1="860.3" x2="1366.9" y2="839.0" stroke="#000" stroke-width="0.7"/><line x1="1358.7" y1="860.3" x2="1369.4" y2="840.4" stroke="#000" stroke-width="0.7"/><line x1="1358.7" y1="860.3" x2="1371.9" y2="841.8" stroke="#000" stroke-width="0.7"/><line x1="1358.7" y1="860.3" x2="1376.7" y2="844.9" stroke="#000" stroke-width="0.7"/><line x1="1358.7" y1="860.3" x2="1378.9" y2="846.3" stroke="#000" stroke-width="0.7"/><line x1="1358.7" y1="860.3" x2="1374.3" y2="843.3" stroke="#000" stroke-width="0.8"/><line x1="1372.3" y1="869.4" x2="1382.0" y2="848.5" stroke="#0000ff" stroke-width="2.3"/><line x1="1372.3" y1="869.4" x2="1385.3" y2="850.9" stroke="#0000ff" stroke-width="2.3"/><line x1="1372.3" y1="869.4" x2="1388.6" y2="853.5" stroke="#000" stroke-width="0.7"/><line x1="1372.3" y1="869.4" x2="1391.2" y2="855.7" stroke="#000" stroke-width="0.7"/><line x1="1384.2" y1="880.2" x2="1395.4" y2="859.5" stroke="#000" stroke-width="0.7"/><line x1="1384.2" y1="880.2" x2="1398.0" y2="861.9" stroke="#000" stroke-width="0.7"/><line x1="1384.2" y1="880.2" x2="1403.3" y2="867.4" stroke="#000" stroke-width="0.7"/><line x1="1384.2" y1="880.2" x2="1405.6" y2="870.1" stroke="#000" stroke-width="0.7"/><line x1="1384.2" y1="880.2" x2="1400.8" y2="864.8" stroke="#000" stroke-width="0.7"/><line x1="1395.6" y1="893.9" x2="1414.2" y2="881.1" stroke="#0000ff" stroke-width="2.5"/><line x1="1399.2" y1="899.4" x2="1418.4" y2="887.5" stroke="#000" stroke-width="0.9"/><line x1="1395.6" y1="893.9" x2="1399.2" y2="899.4" stroke="#000" stroke-width="2.0"/><path d="M1399.2,899.4 A113.5,113.5 0 0 0 1395.6,893.9" fill="none" stroke="#000" stroke-width="2.0"/><line x1="1343.6" y1="939.0" x2="1424.9" y2="899.3" stroke="#000" stroke-width="0.9"/><line x1="1346.7" y1="947.2" x2="1390.4" y2="935.5" stroke="#000" stroke-width="0.9"/><line x1="1390.4" y1="935.5" x2="1410.9" y2="925.1" stroke="#000" stroke-width="0.9"/><path d="M1415.3,945.2 A113.5,113.5 0 0 0 1410.9,925.1" fill="none" stroke="#000" stroke-width="2.0"/><line x1="1410.9" y1="925.1" x2="1433.7" y2="922.4" stroke="#000" stroke-width="0.7"/><line x1="1410.9" y1="925.1" x2="1434.7" y2="926.1" stroke="#000" stroke-width="0.7"/><line x1="1410.9" y1="925.1" x2="1429.6" y2="910.0" stroke="#000" stroke-width="0.7"/><line x1="1410.9" y1="925.1" x2="1431.1" y2="914.0" stroke="#000" stroke-width="0.7"/><line x1="1410.9" y1="925.1" x2="1432.4" y2="918.1" stroke="#000" stroke-width="0.7"/><line x1="1414.5" y1="939.9" x2="1436.8" y2="936.1" stroke="#000" stroke-width="0.9"/><line x1="1415.4" y1="946.2" x2="1437.8" y2="943.6" stroke="#000" stroke-width="0.9"/><line x1="1348.3" y1="958.4" x2="1438.7" y2="957.1" stroke="#000" stroke-width="0.9"/><line x1="1348.0" y1="963.7" x2="1438.0" y2="972.9" stroke="#ff0000" stroke-width="2.7"/><line x1="1344.0" y1="978.3" x2="1364.1" y2="987.7" stroke="#000" stroke-width="0.9"/><path d="M1356.3,1000.5 A67.8,67.8 0 0 0 1366.3,982.2" fill="none" stroke="#000" stroke-width="2.3"/><line x1="1366.3" y1="982.2" x2="1391.5" y2="977.9" stroke="#000" stroke-width="0.9"/><path d="M1384.6,998.3 A90.9,90.9 0 0 0 1391.5,977.9" fill="none" stroke="#000" stroke-width="2.3"/><line x1="1391.7" y1="977.1" x2="1436.0" y2="986.1" stroke="#000" stroke-width="0.9"/><line x1="1391.0" y1="980.2" x2="1412.3" y2="988.0" stroke="#000" stroke-width="0.85"/><line x1="1412.3" y1="988.0" x2="1434.2" y2="993.8" stroke="#000" stroke-width="0.7"/><line x1="1412.3" y1="988.0" x2="1433.0" y2="997.9" stroke="#000" stroke-width="0.7"/><line x1="1384.6" y1="998.3" x2="1405.0" y2="1008.0" stroke="#000" stroke-width="0.85"/><path d="M1399.1,1018.8 A113.5,113.5 0 0 0 1407.9,1001.3" fill="none" stroke="#000" stroke-width="1.8"/><line x1="1407.9" y1="1001.3" x2="1428.9" y2="1009.8" stroke="#000" stroke-width="0.9"/><line x1="1405.1" y1="1007.7" x2="1425.5" y2="1017.4" stroke="#000" stroke-width="0.9"/><line x1="1402.3" y1="1013.2" x2="1422.2" y2="1023.9" stroke="#000" stroke-width="0.9"/><line x1="1399.0" y1="1019.0" x2="1418.2" y2="1030.9" stroke="#000" stroke-width="0.9"/><line x1="1356.4" y1="1000.3" x2="1374.7" y2="1014.3" stroke="#000" stroke-width="0.85"/><path d="M1370.8,1019.1 A90.9,90.9 0 0 0 1374.9,1014.1" fill="none" stroke="#000" stroke-width="1.7"/><line x1="1375.1" y1="1013.8" x2="1411.2" y2="1041.1" stroke="#000" stroke-width="0.9"/><line x1="1370.9" y1="1019.0" x2="1404.9" y2="1048.8" stroke="#000" stroke-width="0.9"/><line x1="1333.8" y1="992.3" x2="1395.6" y2="1058.4" stroke="#008000" stroke-width="2.7"/><line x1="1260.1" y1="975.8" x2="1239.5" y2="984.0" stroke="#000" stroke-width="0.9"/><path d="M1267.2,901.2 A67.8,67.8 0 1 0 1343.8,1012.9" fill="none" stroke="#000" stroke-width="2.2"/><line x1="1343.7" y1="1013.0" x2="1385.1" y2="1067.3" stroke="#0000ff" stroke-width="2.3"/><line x1="1267.2" y1="901.2" x2="1255.8" y2="881.1" stroke="#000" stroke-width="0.9"/><path d="M1299.4,868.2 A90.9,90.9 0 0 0 1229.8,904.6" fill="none" stroke="#000" stroke-width="2.2"/><line x1="1299.3" y1="868.2" x2="1297.6" y2="823.0" stroke="#000" stroke-width="0.9"/><line x1="1292.6" y1="868.7" x2="1287.7" y2="823.7" stroke="#000" stroke-width="0.9"/><line x1="1272.3" y1="873.3" x2="1267.5" y2="851.1" stroke="#000" stroke-width="0.9"/><path d="M1276.9,848.5 A113.5,113.5 0 0 0 1259.2,854.1" fill="none" stroke="#000" stroke-width="2.0"/><line x1="1259.2" y1="854.1" x2="1259.6" y2="829.9" stroke="#ff0000" stroke-width="2.5"/><line x1="1259.2" y1="854.1" x2="1240.8" y2="837.7" stroke="#ff0000" stroke-width="2.5"/><line x1="1259.2" y1="854.1" x2="1243.8" y2="836.3" stroke="#000" stroke-width="0.7"/><line x1="1259.2" y1="854.1" x2="1246.6" y2="835.0" stroke="#000" stroke-width="0.7"/><line x1="1259.2" y1="854.1" x2="1249.4" y2="833.7" stroke="#000" stroke-width="0.7"/><line x1="1259.2" y1="854.1" x2="1252.3" y2="832.5" stroke="#000" stroke-width="0.7"/><line x1="1259.2" y1="854.1" x2="1255.2" y2="831.4" stroke="#000" stroke-width="0.7"/><line x1="1276.9" y1="848.5" x2="1272.0" y2="826.4" stroke="#000" stroke-width="0.7"/><line x1="1276.9" y1="848.5" x2="1275.9" y2="825.5" stroke="#000" stroke-width="0.7"/><line x1="1276.9" y1="848.5" x2="1267.4" y2="827.5" stroke="#000" stroke-width="0.7"/><line x1="1243.3" y1="890.1" x2="1228.6" y2="873.0" stroke="#000" stroke-width="0.9"/><path d="M1245.0,861.2 A113.5,113.5 0 0 0 1216.9,884.5" fill="none" stroke="#000" stroke-width="2.0"/><line x1="1245.0" y1="861.2" x2="1233.7" y2="841.6" stroke="#ff0000" stroke-width="2.5"/><line x1="1239.5" y1="864.7" x2="1226.9" y2="845.9" stroke="#000" stroke-width="0.9"/><line x1="1228.9" y1="872.7" x2="1213.3" y2="856.3" stroke="#008000" stroke-width="2.5"/><line x1="1228.9" y1="872.7" x2="1209.8" y2="859.5" stroke="#000" stroke-width="0.7"/><line x1="1228.9" y1="872.7" x2="1216.6" y2="853.5" stroke="#000" stroke-width="0.7"/><line x1="1228.9" y1="872.7" x2="1219.2" y2="851.5" stroke="#000" stroke-width="0.7"/><line x1="1228.9" y1="872.7" x2="1207.7" y2="861.4" stroke="#000" stroke-width="0.7"/><line x1="1222.1" y1="879.0" x2="1206.0" y2="863.1" stroke="#000" stroke-width="0.9"/><line x1="1216.9" y1="884.5" x2="1199.9" y2="869.7" stroke="#000" stroke-width="0.9"/><line x1="1229.7" y1="904.7" x2="1193.5" y2="877.7" stroke="#000" stroke-width="0.9"/><line x1="1226.0" y1="910.0" x2="1187.9" y2="885.7" stroke="#000" stroke-width="0.9"/><path d="M1229.8,904.6 A90.9,90.9 0 0 0 1226.1,909.9" fill="none" stroke="#000" stroke-width="2.0"/><line x1="1258.4" y1="1010.4" x2="1241.4" y2="1026.2" stroke="#000" stroke-width="0.9"/><path d="M1217.9,926.0 A90.9,90.9 0 0 0 1348.0,1037.7" fill="none" stroke="#000" stroke-width="2.2"/><line x1="1217.9" y1="926.0" x2="1175.8" y2="909.6" stroke="#000" stroke-width="0.9"/><line x1="1220.6" y1="919.7" x2="1179.9" y2="900.2" stroke="#000" stroke-width="0.9"/><line x1="1215.7" y1="932.4" x2="1172.4" y2="919.2" stroke="#000" stroke-width="0.9"/><line x1="1213.8" y1="939.5" x2="1169.7" y2="929.8" stroke="#000" stroke-width="0.9"/><line x1="1212.6" y1="946.4" x2="1167.8" y2="940.1" stroke="#000" stroke-width="0.9"/><line x1="1211.8" y1="963.1" x2="1166.6" y2="965.2" stroke="#000" stroke-width="0.9"/><path d="M1220.6,919.7 A90.9,90.9 0 0 0 1217.9,926.0" fill="none" stroke="#000" stroke-width="2.0"/><line x1="1217.9" y1="926.0" x2="1183.6" y2="893.0" stroke="#000" stroke-width="0.8"/><line x1="1217.9" y1="926.0" x2="1181.5" y2="896.8" stroke="#000" stroke-width="0.8"/><line x1="1211.8" y1="956.3" x2="1166.6" y2="955.0" stroke="#bf00bf" stroke-width="2.5"/><line x1="1220.9" y1="998.8" x2="1201.5" y2="1010.5" stroke="#000" stroke-width="0.9"/><path d="M1189.8,971.8 A113.5,113.5 0 0 0 1201.5,1010.5" fill="none" stroke="#000" stroke-width="2.2"/><line x1="1189.9" y1="972.0" x2="1167.4" y2="974.6" stroke="#000" stroke-width="0.9"/><line x1="1201.5" y1="1010.5" x2="1168.8" y2="983.8" stroke="#000" stroke-width="0.7"/><line x1="1201.5" y1="1010.5" x2="1169.6" y2="987.9" stroke="#000" stroke-width="0.7"/><line x1="1201.5" y1="1010.5" x2="1170.6" y2="992.0" stroke="#000" stroke-width="0.7"/><line x1="1201.5" y1="1010.5" x2="1171.6" y2="996.1" stroke="#000" stroke-width="0.7"/><line x1="1201.5" y1="1010.5" x2="1172.8" y2="1000.1" stroke="#000" stroke-width="0.7"/><line x1="1201.5" y1="1010.5" x2="1174.2" y2="1004.1" stroke="#000" stroke-width="0.7"/><line x1="1201.5" y1="1010.5" x2="1175.6" y2="1008.0" stroke="#000" stroke-width="0.7"/><line x1="1201.5" y1="1010.5" x2="1177.2" y2="1011.9" stroke="#000" stroke-width="0.7"/><line x1="1201.5" y1="1010.5" x2="1178.9" y2="1015.8" stroke="#000" stroke-width="0.7"/><line x1="1201.5" y1="1010.5" x2="1180.7" y2="1019.6" stroke="#000" stroke-width="0.7"/><line x1="1201.5" y1="1010.5" x2="1182.6" y2="1023.3" stroke="#000" stroke-width="0.7"/><line x1="1201.5" y1="1010.5" x2="1184.7" y2="1027.0" stroke="#000" stroke-width="0.7"/><line x1="1201.5" y1="1010.5" x2="1186.8" y2="1030.6" stroke="#000" stroke-width="0.7"/><line x1="1201.5" y1="1010.5" x2="1189.1" y2="1034.1" stroke="#000" stroke-width="0.7"/><line x1="1201.5" y1="1010.5" x2="1191.5" y2="1037.6" stroke="#000" stroke-width="0.7"/><line x1="1201.5" y1="1010.5" x2="1193.9" y2="1041.0" stroke="#000" stroke-width="0.7"/><line x1="1201.5" y1="1010.5" x2="1196.5" y2="1044.3" stroke="#000" stroke-width="0.7"/><line x1="1201.5" y1="1010.5" x2="1199.2" y2="1047.5" stroke="#000" stroke-width="0.7"/><line x1="1201.5" y1="1010.5" x2="1202.0" y2="1050.7" stroke="#000" stroke-width="0.7"/><line x1="1201.5" y1="1010.5" x2="1204.9" y2="1053.7" stroke="#000" stroke-width="0.7"/><line x1="1241.3" y1="1026.1" x2="1210.8" y2="1059.5" stroke="#000" stroke-width="0.9"/><line x1="1286.3" y1="1048.4" x2="1284.3" y2="1071.0" stroke="#000" stroke-width="0.9"/><path d="M1235.1,1050.2 A113.5,113.5 0 0 0 1331.6,1068.7" fill="none" stroke="#000" stroke-width="2.0"/><line x1="1235.1" y1="1050.2" x2="1219.4" y2="1066.7" stroke="#000" stroke-width="0.7"/><line x1="1235.1" y1="1050.2" x2="1222.2" y2="1068.8" stroke="#000" stroke-width="0.7"/><line x1="1235.1" y1="1050.2" x2="1228.5" y2="1073.1" stroke="#000" stroke-width="0.7"/><line x1="1243.3" y1="1055.8" x2="1231.5" y2="1075.1" stroke="#000" stroke-width="0.9"/><line x1="1255.0" y1="1062.0" x2="1236.6" y2="1078.0" stroke="#000" stroke-width="0.7"/><line x1="1255.0" y1="1062.0" x2="1239.8" y2="1079.7" stroke="#000" stroke-width="0.7"/><line x1="1255.0" y1="1062.0" x2="1242.9" y2="1081.3" stroke="#000" stroke-width="0.7"/><line x1="1255.0" y1="1062.0" x2="1246.2" y2="1082.9" stroke="#000" stroke-width="0.7"/><line x1="1255.0" y1="1062.0" x2="1249.4" y2="1084.3" stroke="#000" stroke-width="0.7"/><line x1="1255.0" y1="1062.0" x2="1252.7" y2="1085.6" stroke="#000" stroke-width="0.7"/><line x1="1255.0" y1="1062.0" x2="1256.0" y2="1086.9" stroke="#000" stroke-width="0.7"/><line x1="1268.5" y1="1067.2" x2="1261.7" y2="1088.8" stroke="#000" stroke-width="0.9"/><line x1="1274.4" y1="1068.9" x2="1268.8" y2="1090.8" stroke="#000" stroke-width="0.9"/><line x1="1301.2" y1="1072.5" x2="1278.5" y2="1093.0" stroke="#000" stroke-width="0.7"/><line x1="1301.2" y1="1072.5" x2="1282.7" y2="1093.6" stroke="#000" stroke-width="0.7"/><line x1="1301.2" y1="1072.5" x2="1286.9" y2="1094.2" stroke="#000" stroke-width="0.7"/><line x1="1301.2" y1="1072.5" x2="1291.1" y2="1094.6" stroke="#000" stroke-width="0.7"/><line x1="1301.2" y1="1072.5" x2="1295.3" y2="1094.9" stroke="#000" stroke-width="0.7"/><line x1="1301.2" y1="1072.5" x2="1299.6" y2="1095.1" stroke="#000" stroke-width="0.7"/><line x1="1301.2" y1="1072.5" x2="1303.8" y2="1095.1" stroke="#000" stroke-width="0.7"/><line x1="1301.2" y1="1072.5" x2="1308.0" y2="1095.0" stroke="#000" stroke-width="0.7"/><line x1="1301.2" y1="1072.5" x2="1312.3" y2="1094.8" stroke="#000" stroke-width="0.7"/><line x1="1301.2" y1="1072.5" x2="1316.5" y2="1094.4" stroke="#000" stroke-width="0.7"/><line x1="1301.2" y1="1072.5" x2="1320.7" y2="1093.9" stroke="#000" stroke-width="0.7"/><line x1="1301.2" y1="1072.5" x2="1324.9" y2="1093.3" stroke="#000" stroke-width="0.7"/><line x1="1301.2" y1="1072.5" x2="1329.0" y2="1092.5" stroke="#000" stroke-width="0.7"/><line x1="1318.8" y1="1071.3" x2="1322.0" y2="1093.7" stroke="#000" stroke-width="0.9"/><line x1="1331.6" y1="1068.7" x2="1337.4" y2="1090.6" stroke="#000" stroke-width="0.9"/><line x1="1334.7" y1="1044.0" x2="1342.7" y2="1065.2" stroke="#000" stroke-width="0.9"/><line x1="1342.7" y1="1065.2" x2="1348.7" y2="1087.1" stroke="#000" stroke-width="0.7"/><line x1="1342.7" y1="1065.2" x2="1352.9" y2="1085.5" stroke="#000" stroke-width="0.7"/><line x1="1347.5" y1="1038.0" x2="1358.7" y2="1057.7" stroke="#000" stroke-width="0.9"/><line x1="1358.7" y1="1057.7" x2="1362.9" y2="1081.0" stroke="#000" stroke-width="0.7"/><line x1="1358.7" y1="1057.7" x2="1365.4" y2="1079.8" stroke="#000" stroke-width="0.7"/><line x1="1358.7" y1="1057.7" x2="1367.8" y2="1078.5" stroke="#000" stroke-width="0.7"/><line x1="1358.7" y1="1057.7" x2="1370.2" y2="1077.1" stroke="#000" stroke-width="0.7"/><line x1="1358.7" y1="1057.7" x2="1372.6" y2="1075.7" stroke="#000" stroke-width="0.7"/><line x1="1358.7" y1="1057.7" x2="1374.9" y2="1074.3" stroke="#000" stroke-width="0.7"/></g>
<g><circle cx="1302.6" cy="959.0" r="0.6" fill="#bfbf10"/><circle cx="1280.0" cy="959.0" r="3.6" fill="#bfbf10" stroke="#000" stroke-width="0.5"/><circle cx="1305.8" cy="913.4" r="3.0" fill="#bfbf10" stroke="#000" stroke-width="0.5"/><circle cx="1312.9" cy="914.5" r="1.6" fill="#bfbf10" stroke="#000" stroke-width="0.5"/><circle cx="1317.5" cy="915.8" r="2.3" fill="#0000ff" stroke="#000" stroke-width="0.5"/><circle cx="1332.0" cy="924.0" r="3.2" fill="#0000ff" stroke="#000" stroke-width="0.5"/><circle cx="1343.6" cy="939.0" r="1.5" fill="#bfbf10" stroke="#000" stroke-width="0.5"/><circle cx="1346.7" cy="947.2" r="2.8" fill="#bfbf10" stroke="#000" stroke-width="0.5"/><circle cx="1348.0" cy="963.8" r="3.0" fill="#ff0000" stroke="#000" stroke-width="0.5"/><circle cx="1344.0" cy="978.3" r="2.4" fill="#bfbf10" stroke="#000" stroke-width="0.5"/><circle cx="1333.7" cy="992.4" r="2.6" fill="#008000" stroke="#000" stroke-width="0.5"/><circle cx="1260.1" cy="975.8" r="3.6" fill="#008000" stroke="#000" stroke-width="0.5"/><circle cx="1348.3" cy="958.4" r="1.0" fill="#bfbf10" stroke="#000" stroke-width="0.5"/><circle cx="1307.3" cy="891.3" r="1.3" fill="#bfbf10" stroke="#000" stroke-width="0.5"/><circle cx="1308.9" cy="868.3" r="2.8" fill="#bfbf10" stroke="#000" stroke-width="0.5"/><circle cx="1310.5" cy="845.8" r="3.0" fill="#bfbf10" stroke="#000" stroke-width="0.5"/><circle cx="1309.2" cy="823.1" r="1.8" fill="#0000ff" stroke="#000" stroke-width="0.5"/><circle cx="1313.5" cy="823.3" r="1.8" fill="#0000ff" stroke="#000" stroke-width="0.5"/><circle cx="1311.4" cy="823.2" r="1.6" fill="#bfbf10" stroke="#000" stroke-width="0.5"/><circle cx="1317.9" cy="892.9" r="1.6" fill="#bfbf10" stroke="#000" stroke-width="0.5"/><circle cx="1323.0" cy="870.4" r="2.2" fill="#bfbf10" stroke="#000" stroke-width="0.5"/><circle cx="1328.1" cy="848.4" r="2.2" fill="#bfbf10" stroke="#000" stroke-width="0.5"/><circle cx="1333.2" cy="826.4" r="2.3" fill="#bfbf10" stroke="#000" stroke-width="0.5"/><circle cx="1324.5" cy="894.8" r="1.6" fill="#0000ff" stroke="#000" stroke-width="0.5"/><circle cx="1331.9" cy="873.0" r="2.0" fill="#0000ff" stroke="#000" stroke-width="0.5"/><circle cx="1339.2" cy="851.6" r="2.0" fill="#0000ff" stroke="#000" stroke-width="0.5"/><circle cx="1346.5" cy="830.2" r="2.4" fill="#0000ff" stroke="#000" stroke-width="0.5"/><circle cx="1346.2" cy="907.0" r="3.0" fill="#0000ff" stroke="#000" stroke-width="0.5"/><circle cx="1361.0" cy="889.4" r="3.4" fill="#0000ff" stroke="#000" stroke-width="0.5"/><circle cx="1350.0" cy="855.9" r="1.5" fill="#0000ff" stroke="#000" stroke-width="0.5"/><circle cx="1358.8" cy="835.0" r="1.7" fill="#0000ff" stroke="#000" stroke-width="0.5"/><circle cx="1364.4" cy="837.7" r="1.2" fill="#bfbf10" stroke="#000" stroke-width="0.5"/><circle cx="1366.9" cy="839.0" r="1.2" fill="#bfbf10" stroke="#000" stroke-width="0.5"/><circle cx="1369.4" cy="840.4" r="1.2" fill="#bfbf10" stroke="#000" stroke-width="0.5"/><circle cx="1371.9" cy="841.8" r="1.2" fill="#bfbf10" stroke="#000" stroke-width="0.5"/><circle cx="1376.7" cy="844.9" r="1.2" fill="#bfbf10" stroke="#000" stroke-width="0.5"/><circle cx="1378.9" cy="846.3" r="1.2" fill="#bfbf10" stroke="#000" stroke-width="0.5"/><circle cx="1374.3" cy="843.3" r="1.7" fill="#008000" stroke="#000" stroke-width="0.5"/><circle cx="1358.7" cy="860.3" r="2.6" fill="#bfbf10" stroke="#000" stroke-width="0.5"/><circle cx="1388.6" cy="853.5" r="1.6" fill="#bfbf10" stroke="#000" stroke-width="0.5"/><circle cx="1391.2" cy="855.7" r="1.6" fill="#bfbf10" stroke="#000" stroke-width="0.5"/><circle cx="1382.0" cy="848.5" r="3.2" fill="#0000ff" stroke="#000" stroke-width="0.5"/><circle cx="1385.3" cy="850.9" r="2.2" fill="#0000ff" stroke="#000" stroke-width="0.5"/><circle cx="1372.3" cy="869.4" r="3.2" fill="#0000ff" stroke="#000" stroke-width="0.5"/><circle cx="1395.4" cy="859.5" r="1.5" fill="#bfbf10" stroke="#000" stroke-width="0.5"/><circle cx="1398.0" cy="861.9" r="1.5" fill="#bfbf10" stroke="#000" stroke-width="0.5"/><circle cx="1403.3" cy="867.4" r="1.5" fill="#bfbf10" stroke="#000" stroke-width="0.5"/><circle cx="1405.6" cy="870.1" r="1.5" fill="#bfbf10" stroke="#000" stroke-width="0.5"/><circle cx="1400.8" cy="864.8" r="3.0" fill="#bfbf10" stroke="#000" stroke-width="0.5"/><circle cx="1384.2" cy="880.2" r="3.0" fill="#bfbf10" stroke="#000" stroke-width="0.5"/><circle cx="1392.0" cy="889.1" r="2.3" fill="#bfbf10" stroke="#000" stroke-width="0.5"/><circle cx="1395.6" cy="893.9" r="1.6" fill="#0000ff" stroke="#000" stroke-width="0.5"/><circle cx="1414.2" cy="881.1" r="1.9" fill="#0000ff" stroke="#000" stroke-width="0.5"/><circle cx="1418.4" cy="887.5" r="2.4" fill="#bfbf10" stroke="#000" stroke-width="0.5"/><circle cx="1399.2" cy="899.4" r="2.2" fill="#bfbf10" stroke="#000" stroke-width="0.5"/><circle cx="1363.6" cy="929.3" r="1.4" fill="#bfbf10" stroke="#000" stroke-width="0.5"/><circle cx="1384.3" cy="919.2" r="1.5" fill="#bfbf10" stroke="#000" stroke-width="0.5"/><circle cx="1404.6" cy="909.2" r="1.5" fill="#bfbf10" stroke="#000" stroke-width="0.5"/><circle cx="1424.9" cy="899.3" r="1.6" fill="#bfbf10" stroke="#000" stroke-width="0.5"/><circle cx="1368.1" cy="941.4" r="2.8" fill="#bfbf10" stroke="#000" stroke-width="0.5"/><circle cx="1390.4" cy="935.5" r="3.0" fill="#bfbf10" stroke="#000" stroke-width="0.5"/><circle cx="1433.7" cy="922.4" r="1.3" fill="#bfbf10" stroke="#000" stroke-width="0.5"/><circle cx="1434.7" cy="926.1" r="1.3" fill="#bfbf10" stroke="#000" stroke-width="0.5"/><circle cx="1429.6" cy="910.0" r="2.0" fill="#ff0000" stroke="#000" stroke-width="0.5"/><circle cx="1431.1" cy="914.0" r="1.4" fill="#d020d0" stroke="#000" stroke-width="0.5"/><circle cx="1432.4" cy="918.1" r="2.8" fill="#bfbf10" stroke="#000" stroke-width="0.5"/><circle cx="1410.9" cy="925.1" r="2.8" fill="#bfbf10" stroke="#000" stroke-width="0.5"/><circle cx="1436.8" cy="936.1" r="1.4" fill="#bfbf10" stroke="#000" stroke-width="0.5"/><circle cx="1437.8" cy="943.6" r="1.4" fill="#bfbf10" stroke="#000" stroke-width="0.5"/><circle cx="1414.5" cy="939.9" r="1.2" fill="#bfbf10" stroke="#000" stroke-width="0.5"/><circle cx="1415.3" cy="945.2" r="1.2" fill="#bfbf10" stroke="#000" stroke-width="0.5"/><circle cx="1370.4" cy="958.1" r="1.2" fill="#bfbf10" stroke="#000" stroke-width="0.5"/><circle cx="1393.5" cy="957.7" r="1.2" fill="#bfbf10" stroke="#000" stroke-width="0.5"/><circle cx="1416.1" cy="957.4" r="1.3" fill="#bfbf10" stroke="#000" stroke-width="0.5"/><circle cx="1438.7" cy="957.1" r="1.4" fill="#bfbf10" stroke="#000" stroke-width="0.5"/><circle cx="1370.1" cy="965.9" r="3.3" fill="#ff0000" stroke="#000" stroke-width="0.5"/><circle cx="1393.0" cy="968.3" r="3.4" fill="#ff0000" stroke="#000" stroke-width="0.5"/><circle cx="1415.5" cy="970.6" r="3.4" fill="#ff0000" stroke="#000" stroke-width="0.5"/><circle cx="1438.0" cy="972.9" r="3.6" fill="#ff0000" stroke="#000" stroke-width="0.5"/><circle cx="1366.3" cy="982.2" r="2.4" fill="#bfbf10" stroke="#000" stroke-width="0.5"/><circle cx="1356.3" cy="1000.5" r="1.5" fill="#bfbf10" stroke="#000" stroke-width="0.5"/><circle cx="1391.5" cy="977.9" r="2.3" fill="#bfbf10" stroke="#000" stroke-width="0.5"/><circle cx="1384.6" cy="998.3" r="2.2" fill="#bfbf10" stroke="#000" stroke-width="0.5"/><circle cx="1413.8" cy="981.6" r="2.0" fill="#bfbf10" stroke="#000" stroke-width="0.5"/><circle cx="1436.0" cy="986.1" r="2.2" fill="#bfbf10" stroke="#000" stroke-width="0.5"/><circle cx="1391.0" cy="980.2" r="1.2" fill="#bfbf10" stroke="#000" stroke-width="0.5"/><circle cx="1412.3" cy="988.0" r="1.5" fill="#bfbf10" stroke="#000" stroke-width="0.5"/><circle cx="1434.2" cy="993.8" r="1.5" fill="#bfbf10" stroke="#000" stroke-width="0.5"/><circle cx="1433.0" cy="997.9" r="1.5" fill="#bfbf10" stroke="#000" stroke-width="0.5"/><circle cx="1428.9" cy="1009.8" r="2.0" fill="#bfbf10" stroke="#000" stroke-width="0.5"/><circle cx="1407.9" cy="1001.3" r="1.8" fill="#bfbf10" stroke="#000" stroke-width="0.5"/><circle cx="1425.5" cy="1017.4" r="2.0" fill="#bfbf10" stroke="#000" stroke-width="0.5"/><circle cx="1405.1" cy="1007.7" r="1.5" fill="#bfbf10" stroke="#000" stroke-width="0.5"/><circle cx="1422.2" cy="1023.9" r="2.0" fill="#bfbf10" stroke="#000" stroke-width="0.5"/><circle cx="1402.3" cy="1013.2" r="1.5" fill="#bfbf10" stroke="#000" stroke-width="0.5"/><circle cx="1418.2" cy="1030.9" r="2.4" fill="#bfbf10" stroke="#000" stroke-width="0.5"/><circle cx="1399.0" cy="1019.0" r="2.6" fill="#bfbf10" stroke="#000" stroke-width="0.5"/><circle cx="1393.1" cy="1027.5" r="1.3" fill="#bfbf10" stroke="#000" stroke-width="0.5"/><circle cx="1411.2" cy="1041.1" r="1.6" fill="#bfbf10" stroke="#000" stroke-width="0.5"/><circle cx="1387.9" cy="1033.9" r="1.8" fill="#bfbf10" stroke="#000" stroke-width="0.5"/><circle cx="1404.9" cy="1048.8" r="1.6" fill="#bfbf10" stroke="#000" stroke-width="0.5"/><circle cx="1374.9" cy="1014.1" r="1.8" fill="#bfbf10" stroke="#000" stroke-width="0.5"/><circle cx="1370.8" cy="1019.1" r="1.6" fill="#bfbf10" stroke="#000" stroke-width="0.5"/><circle cx="1348.9" cy="1008.5" r="2.8" fill="#008000" stroke="#000" stroke-width="0.5"/><circle cx="1364.7" cy="1025.4" r="2.8" fill="#008000" stroke="#000" stroke-width="0.5"/><circle cx="1380.1" cy="1041.9" r="2.8" fill="#008000" stroke="#000" stroke-width="0.5"/><circle cx="1395.6" cy="1058.4" r="3.2" fill="#008000" stroke="#000" stroke-width="0.5"/><circle cx="1267.2" cy="901.2" r="3.6" fill="#008000" stroke="#000" stroke-width="0.5"/><circle cx="1258.4" cy="1010.4" r="3.8" fill="#bfbf10" stroke="#000" stroke-width="0.5"/><circle cx="1357.7" cy="1031.3" r="1.6" fill="#0000ff" stroke="#000" stroke-width="0.5"/><circle cx="1371.4" cy="1049.3" r="1.6" fill="#0000ff" stroke="#000" stroke-width="0.5"/><circle cx="1385.1" cy="1067.3" r="2.0" fill="#0000ff" stroke="#000" stroke-width="0.5"/><circle cx="1343.8" cy="1012.9" r="1.5" fill="#0000ff" stroke="#000" stroke-width="0.5"/><circle cx="1298.4" cy="845.6" r="1.2" fill="#bfbf10" stroke="#000" stroke-width="0.5"/><circle cx="1297.6" cy="823.0" r="1.5" fill="#bfbf10" stroke="#000" stroke-width="0.5"/><circle cx="1290.1" cy="846.2" r="1.2" fill="#bfbf10" stroke="#000" stroke-width="0.5"/><circle cx="1287.7" cy="823.7" r="1.5" fill="#bfbf10" stroke="#000" stroke-width="0.5"/><circle cx="1299.3" cy="868.2" r="1.2" fill="#bfbf10" stroke="#000" stroke-width="0.5"/><circle cx="1292.6" cy="868.7" r="1.2" fill="#bfbf10" stroke="#000" stroke-width="0.5"/><circle cx="1272.3" cy="873.3" r="3.2" fill="#ff0000" stroke="#000" stroke-width="0.5"/><circle cx="1243.8" cy="836.3" r="1.5" fill="#bfbf10" stroke="#000" stroke-width="0.5"/><circle cx="1246.6" cy="835.0" r="1.5" fill="#bfbf10" stroke="#000" stroke-width="0.5"/><circle cx="1249.4" cy="833.7" r="1.5" fill="#bfbf10" stroke="#000" stroke-width="0.5"/><circle cx="1252.3" cy="832.5" r="1.5" fill="#bfbf10" stroke="#000" stroke-width="0.5"/><circle cx="1255.2" cy="831.4" r="1.5" fill="#bfbf10" stroke="#000" stroke-width="0.5"/><circle cx="1259.6" cy="829.9" r="3.4" fill="#ff0000" stroke="#000" stroke-width="0.5"/><circle cx="1240.8" cy="837.7" r="2.0" fill="#ff0000" stroke="#000" stroke-width="0.5"/><circle cx="1259.2" cy="854.1" r="3.4" fill="#ff0000" stroke="#000" stroke-width="0.5"/><circle cx="1272.0" cy="826.4" r="1.6" fill="#bfbf10" stroke="#000" stroke-width="0.5"/><circle cx="1275.9" cy="825.5" r="1.6" fill="#bfbf10" stroke="#000" stroke-width="0.5"/><circle cx="1267.4" cy="827.5" r="1.8" fill="#ff0000" stroke="#000" stroke-width="0.5"/><circle cx="1276.9" cy="848.5" r="1.8" fill="#d020d0" stroke="#000" stroke-width="0.5"/><circle cx="1243.1" cy="890.3" r="3.6" fill="#008000" stroke="#000" stroke-width="0.5"/><circle cx="1245.0" cy="861.2" r="1.5" fill="#ff0000" stroke="#000" stroke-width="0.5"/><circle cx="1233.7" cy="841.6" r="1.7" fill="#ff0000" stroke="#000" stroke-width="0.5"/><circle cx="1226.9" cy="845.9" r="2.2" fill="#bfbf10" stroke="#000" stroke-width="0.5"/><circle cx="1239.3" cy="864.8" r="1.4" fill="#bfbf10" stroke="#000" stroke-width="0.5"/><circle cx="1209.8" cy="859.5" r="2.2" fill="#d020d0" stroke="#000" stroke-width="0.5"/><circle cx="1216.6" cy="853.5" r="2.2" fill="#d020d0" stroke="#000" stroke-width="0.5"/><circle cx="1219.2" cy="851.5" r="2.2" fill="#d020d0" stroke="#000" stroke-width="0.5"/><circle cx="1207.7" cy="861.4" r="1.3" fill="#bfbf10" stroke="#000" stroke-width="0.5"/><circle cx="1213.3" cy="856.3" r="2.6" fill="#008000" stroke="#000" stroke-width="0.5"/><circle cx="1209.8" cy="859.5" r="3.0" fill="#d020d0" stroke="#000" stroke-width="0.5"/><circle cx="1228.9" cy="872.7" r="3.6" fill="#008000" stroke="#000" stroke-width="0.5"/><circle cx="1206.0" cy="863.1" r="1.3" fill="#bfbf10" stroke="#000" stroke-width="0.5"/><circle cx="1221.6" cy="879.4" r="1.3" fill="#bfbf10" stroke="#000" stroke-width="0.5"/><circle cx="1199.9" cy="869.7" r="1.3" fill="#bfbf10" stroke="#000" stroke-width="0.5"/><circle cx="1216.9" cy="884.5" r="1.3" fill="#bfbf10" stroke="#000" stroke-width="0.5"/><circle cx="1229.8" cy="904.6" r="2.2" fill="#bfbf10" stroke="#000" stroke-width="0.5"/><circle cx="1211.6" cy="891.2" r="1.8" fill="#bfbf10" stroke="#000" stroke-width="0.5"/><circle cx="1193.5" cy="877.7" r="1.8" fill="#bfbf10" stroke="#000" stroke-width="0.5"/><circle cx="1207.0" cy="897.9" r="1.5" fill="#bfbf10" stroke="#000" stroke-width="0.5"/><circle cx="1187.9" cy="885.7" r="1.7" fill="#bfbf10" stroke="#000" stroke-width="0.5"/><circle cx="1226.1" cy="909.9" r="1.6" fill="#bfbf10" stroke="#000" stroke-width="0.5"/><circle cx="1196.9" cy="917.8" r="3.2" fill="#bfbf10" stroke="#000" stroke-width="0.5"/><circle cx="1175.8" cy="909.6" r="3.2" fill="#bfbf10" stroke="#000" stroke-width="0.5"/><circle cx="1217.9" cy="926.0" r="3.0" fill="#bfbf10" stroke="#000" stroke-width="0.5"/><circle cx="1200.2" cy="910.0" r="1.5" fill="#bfbf10" stroke="#000" stroke-width="0.5"/><circle cx="1179.9" cy="900.2" r="1.6" fill="#bfbf10" stroke="#000" stroke-width="0.5"/><circle cx="1220.6" cy="919.7" r="1.3" fill="#bfbf10" stroke="#000" stroke-width="0.5"/><circle cx="1194.1" cy="925.8" r="2.0" fill="#bfbf10" stroke="#000" stroke-width="0.5"/><circle cx="1172.4" cy="919.2" r="2.0" fill="#bfbf10" stroke="#000" stroke-width="0.5"/><circle cx="1215.7" cy="932.4" r="2.0" fill="#bfbf10" stroke="#000" stroke-width="0.5"/><circle cx="1191.8" cy="934.6" r="1.8" fill="#bfbf10" stroke="#000" stroke-width="0.5"/><circle cx="1169.7" cy="929.8" r="1.8" fill="#bfbf10" stroke="#000" stroke-width="0.5"/><circle cx="1213.8" cy="939.5" r="1.5" fill="#bfbf10" stroke="#000" stroke-width="0.5"/><circle cx="1190.2" cy="943.2" r="1.5" fill="#bfbf10" stroke="#000" stroke-width="0.5"/><circle cx="1167.8" cy="940.1" r="1.5" fill="#bfbf10" stroke="#000" stroke-width="0.5"/><circle cx="1212.6" cy="946.4" r="1.4" fill="#bfbf10" stroke="#000" stroke-width="0.5"/><circle cx="1189.2" cy="964.1" r="1.5" fill="#bfbf10" stroke="#000" stroke-width="0.5"/><circle cx="1166.6" cy="965.2" r="1.7" fill="#bfbf10" stroke="#000" stroke-width="0.5"/><circle cx="1211.8" cy="963.1" r="1.5" fill="#bfbf10" stroke="#000" stroke-width="0.5"/><circle cx="1183.6" cy="893.0" r="1.3" fill="#bfbf10" stroke="#000" stroke-width="0.5"/><circle cx="1181.5" cy="896.8" r="1.4" fill="#bfbf10" stroke="#000" stroke-width="0.5"/><circle cx="1189.2" cy="955.6" r="2.2" fill="#d020d0" stroke="#000" stroke-width="0.5"/><circle cx="1166.6" cy="955.0" r="2.8" fill="#d020d0" stroke="#000" stroke-width="0.5"/><circle cx="1211.8" cy="956.0" r="2.2" fill="#d020d0" stroke="#000" stroke-width="0.5"/><circle cx="1220.9" cy="998.8" r="3.8" fill="#bfbf10" stroke="#000" stroke-width="0.5"/><circle cx="1167.4" cy="974.6" r="1.3" fill="#bfbf10" stroke="#000" stroke-width="0.5"/><circle cx="1189.8" cy="971.8" r="1.5" fill="#bfbf10" stroke="#000" stroke-width="0.5"/><circle cx="1168.8" cy="983.8" r="2.0" fill="#bfbf10" stroke="#000" stroke-width="0.5"/><circle cx="1169.6" cy="987.9" r="2.4" fill="#bfbf10" stroke="#000" stroke-width="0.5"/><circle cx="1170.6" cy="992.0" r="2.0" fill="#008000" stroke="#000" stroke-width="0.5"/><circle cx="1171.6" cy="996.1" r="2.0" fill="#bfbf10" stroke="#000" stroke-width="0.5"/><circle cx="1172.8" cy="1000.1" r="2.4" fill="#bfbf10" stroke="#000" stroke-width="0.5"/><circle cx="1174.2" cy="1004.1" r="2.8" fill="#bfbf10" stroke="#000" stroke-width="0.5"/><circle cx="1175.6" cy="1008.0" r="2.0" fill="#bfbf10" stroke="#000" stroke-width="0.5"/><circle cx="1177.2" cy="1011.9" r="2.4" fill="#bfbf10" stroke="#000" stroke-width="0.5"/><circle cx="1178.9" cy="1015.8" r="2.8" fill="#bfbf10" stroke="#000" stroke-width="0.5"/><circle cx="1180.7" cy="1019.6" r="2.6" fill="#0000ff" stroke="#000" stroke-width="0.5"/><circle cx="1182.6" cy="1023.3" r="2.4" fill="#bfbf10" stroke="#000" stroke-width="0.5"/><circle cx="1184.7" cy="1027.0" r="2.8" fill="#bfbf10" stroke="#000" stroke-width="0.5"/><circle cx="1186.8" cy="1030.6" r="2.0" fill="#bfbf10" stroke="#000" stroke-width="0.5"/><circle cx="1189.1" cy="1034.1" r="2.4" fill="#bfbf10" stroke="#000" stroke-width="0.5"/><circle cx="1191.5" cy="1037.6" r="2.8" fill="#bfbf10" stroke="#000" stroke-width="0.5"/><circle cx="1193.9" cy="1041.0" r="2.0" fill="#bfbf10" stroke="#000" stroke-width="0.5"/><circle cx="1196.5" cy="1044.3" r="2.4" fill="#bfbf10" stroke="#000" stroke-width="0.5"/><circle cx="1199.2" cy="1047.5" r="2.8" fill="#bfbf10" stroke="#000" stroke-width="0.5"/><circle cx="1202.0" cy="1050.7" r="2.0" fill="#bfbf10" stroke="#000" stroke-width="0.5"/><circle cx="1204.9" cy="1053.7" r="2.4" fill="#008000" stroke="#000" stroke-width="0.5"/><circle cx="1201.5" cy="1010.5" r="3.6" fill="#bfbf10" stroke="#000" stroke-width="0.5"/><circle cx="1226.1" cy="1042.8" r="1.8" fill="#bfbf10" stroke="#000" stroke-width="0.5"/><circle cx="1210.8" cy="1059.5" r="1.6" fill="#bfbf10" stroke="#000" stroke-width="0.5"/><circle cx="1241.4" cy="1026.2" r="1.7" fill="#bfbf10" stroke="#000" stroke-width="0.5"/><circle cx="1286.3" cy="1048.4" r="3.0" fill="#bfbf10" stroke="#000" stroke-width="0.5"/><circle cx="1219.4" cy="1066.7" r="1.8" fill="#bfbf10" stroke="#000" stroke-width="0.5"/><circle cx="1222.2" cy="1068.8" r="1.8" fill="#bfbf10" stroke="#000" stroke-width="0.5"/><circle cx="1228.5" cy="1073.1" r="1.8" fill="#bfbf10" stroke="#000" stroke-width="0.5"/><circle cx="1235.1" cy="1050.2" r="2.3" fill="#bfbf10" stroke="#000" stroke-width="0.5"/><circle cx="1231.5" cy="1075.1" r="1.3" fill="#bfbf10" stroke="#000" stroke-width="0.5"/><circle cx="1243.3" cy="1055.8" r="1.2" fill="#bfbf10" stroke="#000" stroke-width="0.5"/><circle cx="1236.6" cy="1078.0" r="2.3" fill="#bfbf10" stroke="#000" stroke-width="0.5"/><circle cx="1239.8" cy="1079.7" r="2.3" fill="#bfbf10" stroke="#000" stroke-width="0.5"/><circle cx="1242.9" cy="1081.3" r="2.3" fill="#bfbf10" stroke="#000" stroke-width="0.5"/><circle cx="1246.2" cy="1082.9" r="2.3" fill="#bfbf10" stroke="#000" stroke-width="0.5"/><circle cx="1249.4" cy="1084.3" r="2.3" fill="#bfbf10" stroke="#000" stroke-width="0.5"/><circle cx="1252.7" cy="1085.6" r="2.3" fill="#bfbf10" stroke="#000" stroke-width="0.5"/><circle cx="1256.0" cy="1086.9" r="2.3" fill="#bfbf10" stroke="#000" stroke-width="0.5"/><circle cx="1255.0" cy="1062.0" r="2.8" fill="#bfbf10" stroke="#000" stroke-width="0.5"/><circle cx="1261.7" cy="1088.8" r="1.5" fill="#bfbf10" stroke="#000" stroke-width="0.5"/><circle cx="1268.5" cy="1067.2" r="1.3" fill="#bfbf10" stroke="#000" stroke-width="0.5"/><circle cx="1268.8" cy="1090.8" r="1.4" fill="#bfbf10" stroke="#000" stroke-width="0.5"/><circle cx="1274.4" cy="1068.9" r="1.3" fill="#bfbf10" stroke="#000" stroke-width="0.5"/><circle cx="1278.5" cy="1093.0" r="2.0" fill="#bfbf10" stroke="#000" stroke-width="0.5"/><circle cx="1282.7" cy="1093.6" r="2.0" fill="#bfbf10" stroke="#000" stroke-width="0.5"/><circle cx="1286.9" cy="1094.2" r="2.0" fill="#bfbf10" stroke="#000" stroke-width="0.5"/><circle cx="1291.1" cy="1094.6" r="2.0" fill="#bfbf10" stroke="#000" stroke-width="0.5"/><circle cx="1295.3" cy="1094.9" r="2.0" fill="#bfbf10" stroke="#000" stroke-width="0.5"/><circle cx="1299.6" cy="1095.1" r="2.0" fill="#bfbf10" stroke="#000" stroke-width="0.5"/><circle cx="1303.8" cy="1095.1" r="2.0" fill="#bfbf10" stroke="#000" stroke-width="0.5"/><circle cx="1308.0" cy="1095.0" r="2.0" fill="#bfbf10" stroke="#000" stroke-width="0.5"/><circle cx="1312.3" cy="1094.8" r="2.0" fill="#bfbf10" stroke="#000" stroke-width="0.5"/><circle cx="1316.5" cy="1094.4" r="2.0" fill="#bfbf10" stroke="#000" stroke-width="0.5"/><circle cx="1320.7" cy="1093.9" r="2.0" fill="#bfbf10" stroke="#000" stroke-width="0.5"/><circle cx="1324.9" cy="1093.3" r="2.0" fill="#bfbf10" stroke="#000" stroke-width="0.5"/><circle cx="1329.0" cy="1092.5" r="2.0" fill="#bfbf10" stroke="#000" stroke-width="0.5"/><circle cx="1301.2" cy="1072.5" r="3.0" fill="#bfbf10" stroke="#000" stroke-width="0.5"/><circle cx="1322.0" cy="1093.7" r="1.6" fill="#bfbf10" stroke="#000" stroke-width="0.5"/><circle cx="1318.8" cy="1071.3" r="1.8" fill="#bfbf10" stroke="#000" stroke-width="0.5"/><circle cx="1337.4" cy="1090.6" r="2.2" fill="#bfbf10" stroke="#000" stroke-width="0.5"/><circle cx="1331.6" cy="1068.7" r="2.2" fill="#bfbf10" stroke="#000" stroke-width="0.5"/><circle cx="1335.9" cy="1043.6" r="2.2" fill="#bfbf10" stroke="#000" stroke-width="0.5"/><circle cx="1342.7" cy="1065.2" r="2.2" fill="#bfbf10" stroke="#000" stroke-width="0.5"/><circle cx="1348.7" cy="1087.1" r="2.0" fill="#bfbf10" stroke="#000" stroke-width="0.5"/><circle cx="1352.9" cy="1085.5" r="2.0" fill="#bfbf10" stroke="#000" stroke-width="0.5"/><circle cx="1348.0" cy="1037.7" r="2.2" fill="#bfbf10" stroke="#000" stroke-width="0.5"/><circle cx="1358.7" cy="1057.7" r="2.0" fill="#bfbf10" stroke="#000" stroke-width="0.5"/><circle cx="1362.9" cy="1081.0" r="1.6" fill="#bfbf10" stroke="#000" stroke-width="0.5"/><circle cx="1365.4" cy="1079.8" r="1.6" fill="#bfbf10" stroke="#000" stroke-width="0.5"/><circle cx="1367.8" cy="1078.5" r="1.6" fill="#bfbf10" stroke="#000" stroke-width="0.5"/><circle cx="1370.2" cy="1077.1" r="1.6" fill="#bfbf10" stroke="#000" stroke-width="0.5"/><circle cx="1372.6" cy="1075.7" r="1.6" fill="#bfbf10" stroke="#000" stroke-width="0.5"/><circle cx="1374.9" cy="1074.3" r="1.6" fill="#bfbf10" stroke="#000" stroke-width="0.5"/></g>
<rect x="1088.0" y="1264.0" width="460.0" height="186.0" fill="#fdfdfd" />
<g font-family="DejaVu Sans, sans-serif" font-size="8.9" fill="#000">
<rect x="1098.4" y="1276.6" width="18.0" height="6.4" fill="#bf00bf" stroke="#000" stroke-width="2.6" />
<text x="1124" y="1282.9">a: g__Gordonibacter</text>
<rect x="1098.4" y="1290.0" width="18.0" height="6.4" fill="#ff0000" stroke="#000" stroke-width="2.6" />
<text x="1124" y="1296.3">b: g__Parvibacter</text>
<rect x="1098.4" y="1303.3" width="18.0" height="6.4" fill="#0000ff" stroke="#000" stroke-width="2.6" />
<text x="1124" y="1309.6">c: g__Bacteroidales_g_unclassified</text>
<rect x="1098.4" y="1316.7" width="18.0" height="6.4" fill="#0000ff" stroke="#000" stroke-width="2.6" />
<text x="1124" y="1323.0">d: g__Prevotellaceae_UCG_001</text>
<rect x="1098.4" y="1330.0" width="18.0" height="6.4" fill="#0000ff" stroke="#000" stroke-width="2.6" />
<text x="1124" y="1336.3">e: g__Prevotellaceae_g_unclassified</text>
<rect x="1098.4" y="1343.4" width="18.0" height="6.4" fill="#008000" stroke="#000" stroke-width="2.6" />
<text x="1124" y="1349.7">f: g__Rikenella</text>
<rect x="1098.4" y="1356.8" width="18.0" height="6.4" fill="#0000ff" stroke="#000" stroke-width="2.6" />
<text x="1124" y="1363.1">g: g__Rikenellaceae_RC9_gut_group</text>
<rect x="1098.4" y="1370.1" width="18.0" height="6.4" fill="#0000ff" stroke="#000" stroke-width="2.6" />
<text x="1124" y="1376.4">h: g__Parabacteroides</text>
<rect x="1098.4" y="1383.5" width="18.0" height="6.4" fill="#0000ff" stroke="#000" stroke-width="2.6" />
<text x="1124" y="1389.8">i: g__Gastranaerophilales_g_norank</text>
<rect x="1098.4" y="1396.8" width="18.0" height="6.4" fill="#0000ff" stroke="#000" stroke-width="2.6" />
<text x="1124" y="1403.1">j: g__Bilophila</text>
<rect x="1098.4" y="1410.2" width="18.0" height="6.4" fill="#0000ff" stroke="#000" stroke-width="2.6" />
<text x="1124" y="1416.5">k: g__Desulfovibrionaceae_g_uncultured</text>
<rect x="1098.4" y="1423.6" width="18.0" height="6.4" fill="#ff0000" stroke="#000" stroke-width="2.6" />
<text x="1124" y="1429.9">l: g__Erysipelatoclostridium</text>
<rect x="1098.4" y="1436.9" width="18.0" height="6.4" fill="#ff0000" stroke="#000" stroke-width="2.6" />
<text x="1124" y="1443.2">m: g__Dubosiella</text>
<rect x="1320.4" y="1276.6" width="18.0" height="6.4" fill="#ff0000" stroke="#000" stroke-width="2.6" />
<text x="1345.7" y="1282.9">n: g__Turicibacter</text>
<rect x="1320.4" y="1290.0" width="18.0" height="6.4" fill="#ff0000" stroke="#000" stroke-width="2.6" />
<text x="1345.7" y="1296.3">o: g__Aerococcus</text>
<rect x="1320.4" y="1303.3" width="18.0" height="6.4" fill="#bf00bf" stroke="#000" stroke-width="2.6" />
<text x="1345.7" y="1309.6">p: g__Lactobacillaceae_g_unclassified</text>
<rect x="1320.4" y="1316.7" width="18.0" height="6.4" fill="#bf00bf" stroke="#000" stroke-width="2.6" />
<text x="1345.7" y="1323.0">q: g__Lactobacillus</text>
<rect x="1320.4" y="1330.0" width="18.0" height="6.4" fill="#008000" stroke="#000" stroke-width="2.6" />
<text x="1345.7" y="1336.3">r: g__Ligilactobacillus</text>
<rect x="1320.4" y="1343.4" width="18.0" height="6.4" fill="#bf00bf" stroke="#000" stroke-width="2.6" />
<text x="1345.7" y="1349.7">s: g__Limosilactobacillus</text>
<rect x="1320.4" y="1356.8" width="18.0" height="6.4" fill="#bf00bf" stroke="#000" stroke-width="2.6" />
<text x="1345.7" y="1363.1">t: g__Clostridium_sensu_stricto_1</text>
<rect x="1320.4" y="1370.1" width="18.0" height="6.4" fill="#008000" stroke="#000" stroke-width="2.6" />
<text x="1345.7" y="1376.4">u: g__Blautia</text>
<rect x="1320.4" y="1383.5" width="18.0" height="6.4" fill="#0000ff" stroke="#000" stroke-width="2.6" />
<text x="1345.7" y="1389.8">v: g__Lachnospiraceae_UCG_006</text>
<rect x="1320.4" y="1396.8" width="18.0" height="6.4" fill="#008000" stroke="#000" stroke-width="2.6" />
<text x="1345.7" y="1403.1">w: g___Eubacterium__xylanophilum_group</text>
<rect x="1320.4" y="1410.2" width="18.0" height="6.4" fill="#0000ff" stroke="#000" stroke-width="2.6" />
<text x="1345.7" y="1416.5">x: g__Firmicutes_g_unclassified</text>
<rect x="1320.4" y="1423.6" width="18.0" height="6.4" fill="#008000" stroke="#000" stroke-width="2.6" />
<text x="1345.7" y="1429.9">y: g__Candidatus_Saccharimonas</text>
<rect x="1320.4" y="1436.9" width="18.0" height="6.4" fill="#ff0000" stroke="#000" stroke-width="2.6" />
<text x="1345.7" y="1443.2">z: g__Akkermansia</text>
</g>
<text x="1643.0" y="61.0" font-size="37" font-weight="bold">F</text>
<rect x="1851.6" y="88.8" width="38.9" height="13.5" fill="#ff0000" stroke="#000" stroke-width="1" />
<text x="1906.4" y="102.3" font-size="18.5" font-family="DejaVu Sans, sans-serif">CTR</text>
<rect x="1959.3" y="88.8" width="38.9" height="13.5" fill="#008000" stroke="#000" stroke-width="1" />
<text x="2014.1" y="102.3" font-size="18.5" font-family="DejaVu Sans, sans-serif">EXE</text>
<rect x="2067.0" y="88.8" width="38.9" height="13.5" fill="#0000ff" stroke="#000" stroke-width="1" />
<text x="2121.8" y="102.3" font-size="18.5" font-family="DejaVu Sans, sans-serif">EXE+SD</text>
<rect x="2220.0" y="88.8" width="38.9" height="13.5" fill="#bf00bf" stroke="#000" stroke-width="1" />
<text x="2274.9" y="102.3" font-size="18.5" font-family="DejaVu Sans, sans-serif">SD</text>
<g font-family="DejaVu Sans, sans-serif" font-size="17.7" text-anchor="end">
<rect x="1841.6" y="143.6" width="477.8" height="18.0" fill="#bf00bf" stroke="#000" stroke-width="1" />
<text x="1829.2" y="161.2">g__Gordonibacter</text>
<rect x="1841.6" y="165.8" width="450.4" height="18.0" fill="#bf00bf" stroke="#000" stroke-width="1" />
<text x="1829.2" y="183.4">g__Lactobacillus</text>
<rect x="1841.6" y="187.9" width="374.6" height="18.0" fill="#bf00bf" stroke="#000" stroke-width="1" />
<text x="1829.2" y="205.5">g__Limosilactobacillus</text>
<rect x="1841.6" y="210.1" width="360.6" height="18.0" fill="#bf00bf" stroke="#000" stroke-width="1" />
<text x="1827.7" y="227.7" letter-spacing="-1.52">f__Erysipelatoclostridiaceae</text>
<rect x="1841.6" y="232.3" width="332.2" height="18.0" fill="#bf00bf" stroke="#000" stroke-width="1" />
<text x="1827.7" y="249.9" letter-spacing="-1.52">g__Clostridium_sensu_stricto_1</text>
<rect x="1841.6" y="254.4" width="331.2" height="18.0" fill="#bf00bf" stroke="#000" stroke-width="1" />
<text x="1827.7" y="272.1" letter-spacing="-1.52">o__Clostridiales</text>
<rect x="1841.6" y="276.6" width="331.2" height="18.0" fill="#bf00bf" stroke="#000" stroke-width="1" />
<text x="1827.7" y="294.2" letter-spacing="-1.52">f__Clostridiaceae</text>
<rect x="1841.6" y="298.8" width="311.7" height="18.0" fill="#bf00bf" stroke="#000" stroke-width="1" />
<text x="1827.7" y="316.4" letter-spacing="-1.52">g__Lactobacillaceae_g_unclassified</text>
<rect x="1841.6" y="321.0" width="488.3" height="18.0" fill="#0000ff" stroke="#000" stroke-width="1" />
<text x="1827.7" y="338.6" letter-spacing="-1.52">o__Bacteroidales</text>
<rect x="1841.6" y="343.1" width="488.3" height="18.0" fill="#0000ff" stroke="#000" stroke-width="1" />
<text x="1827.7" y="360.7" letter-spacing="-1.52">p__Bacteroidota</text>
<rect x="1841.6" y="365.3" width="488.3" height="18.0" fill="#0000ff" stroke="#000" stroke-width="1" />
<text x="1827.7" y="382.9" letter-spacing="-1.52">c__Bacteroidia</text>
<rect x="1841.6" y="387.5" width="470.3" height="18.0" fill="#0000ff" stroke="#000" stroke-width="1" />
<text x="1827.7" y="405.1" letter-spacing="-1.52">f__Prevotellaceae</text>
<rect x="1841.6" y="409.6" width="460.9" height="18.0" fill="#0000ff" stroke="#000" stroke-width="1" />
<text x="1827.7" y="427.2" letter-spacing="-1.52">g__Prevotellaceae_g_unclassified</text>
<rect x="1841.6" y="431.8" width="449.4" height="18.0" fill="#0000ff" stroke="#000" stroke-width="1" />
<text x="1827.7" y="449.4" letter-spacing="-1.52">g__Desulfovibrionaceae_g_uncultured</text>
<rect x="1841.6" y="454.0" width="413.5" height="18.0" fill="#0000ff" stroke="#000" stroke-width="1" />
<text x="1827.7" y="471.6" letter-spacing="-1.52">g__Bilophila</text>
<rect x="1841.6" y="476.1" width="405.0" height="18.0" fill="#0000ff" stroke="#000" stroke-width="1" />
<text x="1827.7" y="493.8" letter-spacing="-1.52">f__Bacteroidales_f_unclassified</text>
<rect x="1841.6" y="498.3" width="402.5" height="18.0" fill="#0000ff" stroke="#000" stroke-width="1" />
<text x="1827.7" y="515.9" letter-spacing="-1.52">g__Bacteroidales_g_unclassified</text>
<rect x="1841.6" y="520.5" width="398.0" height="18.0" fill="#0000ff" stroke="#000" stroke-width="1" />
<text x="1827.7" y="538.1" letter-spacing="-1.52">g__Parabacteroides</text>
<rect x="1841.6" y="542.7" width="395.5" height="18.0" fill="#0000ff" stroke="#000" stroke-width="1" />
<text x="1827.7" y="560.3" letter-spacing="-1.52">f__Tannerellaceae</text>
<rect x="1841.6" y="564.8" width="394.5" height="18.0" fill="#0000ff" stroke="#000" stroke-width="1" />
<text x="1827.7" y="582.4" letter-spacing="-1.52">g__Lachnospiraceae_UCG_006</text>
<rect x="1841.6" y="587.0" width="391.0" height="18.0" fill="#0000ff" stroke="#000" stroke-width="1" />
<text x="1827.7" y="604.6" letter-spacing="-1.52">g__Rikenellaceae_RC9_gut_group</text>
<rect x="1841.6" y="609.2" width="391.0" height="18.0" fill="#0000ff" stroke="#000" stroke-width="1" />
<text x="1827.7" y="626.8" letter-spacing="-1.52">g__Prevotellaceae_UCG_001</text>
<rect x="1841.6" y="631.3" width="374.1" height="18.0" fill="#0000ff" stroke="#000" stroke-width="1" />
<text x="1827.7" y="648.9" letter-spacing="-1.52">o__Firmicutes_o_unclassified</text>
<rect x="1841.6" y="653.5" width="370.6" height="18.0" fill="#0000ff" stroke="#000" stroke-width="1" />
<text x="1827.7" y="671.1" letter-spacing="-1.52">f__Firmicutes_f_unclassified</text>
<rect x="1841.6" y="675.7" width="368.1" height="18.0" fill="#0000ff" stroke="#000" stroke-width="1" />
<text x="1827.7" y="693.3" letter-spacing="-1.52">g__Firmicutes_g_unclassified</text>
<rect x="1841.6" y="697.9" width="366.6" height="18.0" fill="#0000ff" stroke="#000" stroke-width="1" />
<text x="1827.7" y="715.5" letter-spacing="-1.52">c__Firmicutes_c_unclassified</text>
<rect x="1841.6" y="720.0" width="302.3" height="18.0" fill="#0000ff" stroke="#000" stroke-width="1" />
<text x="1827.7" y="737.6" letter-spacing="-1.52">f__Gastranaerophilales_f_norank</text>
<rect x="1841.6" y="742.2" width="302.3" height="18.0" fill="#0000ff" stroke="#000" stroke-width="1" />
<text x="1827.7" y="759.8" letter-spacing="-1.52">p__Cyanobacteria</text>
<rect x="1841.6" y="764.4" width="302.3" height="18.0" fill="#0000ff" stroke="#000" stroke-width="1" />
<text x="1827.7" y="782.0" letter-spacing="-1.52">o__Gastranaerophilales</text>
<rect x="1841.6" y="786.5" width="302.3" height="18.0" fill="#0000ff" stroke="#000" stroke-width="1" />
<text x="1827.7" y="804.1" letter-spacing="-1.52">c__Vampirivibrionia</text>
<rect x="1841.6" y="808.7" width="302.3" height="18.0" fill="#0000ff" stroke="#000" stroke-width="1" />
<text x="1827.7" y="826.3" letter-spacing="-1.52">g__Gastranaerophilales_g_norank</text>
<rect x="1841.6" y="830.9" width="531.2" height="18.0" fill="#008000" stroke="#000" stroke-width="1" />
<text x="1827.7" y="848.5" letter-spacing="-1.52">g__Ligilactobacillus</text>
<rect x="1841.6" y="853.0" width="531.2" height="18.0" fill="#008000" stroke="#000" stroke-width="1" />
<text x="1827.7" y="870.6" letter-spacing="-1.52">o__Lactobacillales</text>
<rect x="1841.6" y="875.2" width="531.2" height="18.0" fill="#008000" stroke="#000" stroke-width="1" />
<text x="1827.7" y="892.8" letter-spacing="-1.52">f__Lactobacillaceae</text>
<rect x="1841.6" y="897.4" width="517.7" height="18.0" fill="#008000" stroke="#000" stroke-width="1" />
<text x="1827.7" y="915.0" letter-spacing="-1.52">c__Bacilli</text>
<rect x="1841.6" y="919.6" width="509.2" height="18.0" fill="#008000" stroke="#000" stroke-width="1" />
<text x="1827.7" y="937.2" letter-spacing="-1.52">p__Firmicutes</text>
<rect x="1841.6" y="941.7" width="390.0" height="18.0" fill="#008000" stroke="#000" stroke-width="1" />
<text x="1827.7" y="959.3" letter-spacing="-1.52">f__Saccharimonadaceae</text>
<rect x="1841.6" y="963.9" width="390.0" height="18.0" fill="#008000" stroke="#000" stroke-width="1" />
<text x="1827.7" y="981.5" letter-spacing="-1.52">g__Candidatus_Saccharimonas</text>
<rect x="1841.6" y="986.1" width="390.0" height="18.0" fill="#008000" stroke="#000" stroke-width="1" />
<text x="1827.7" y="1003.7" letter-spacing="-1.52">p__Patescibacteria</text>
<rect x="1841.6" y="1008.2" width="390.0" height="18.0" fill="#008000" stroke="#000" stroke-width="1" />
<text x="1827.7" y="1025.8" letter-spacing="-1.52">c__Saccharimonadia</text>
<rect x="1841.6" y="1030.4" width="390.0" height="18.0" fill="#008000" stroke="#000" stroke-width="1" />
<text x="1827.7" y="1048.0" letter-spacing="-1.52">o__Saccharimonadales</text>
<rect x="1841.6" y="1052.6" width="326.2" height="18.0" fill="#008000" stroke="#000" stroke-width="1" />
<text x="1827.5" y="1070.2" letter-spacing="-1.67">g___Eubacterium__xylanophilum_group</text>
<rect x="1841.6" y="1074.7" width="307.2" height="18.0" fill="#008000" stroke="#000" stroke-width="1" />
<text x="1827.7" y="1092.3" letter-spacing="-1.52">g__Blautia</text>
<rect x="1841.6" y="1096.9" width="305.7" height="18.0" fill="#008000" stroke="#000" stroke-width="1" />
<text x="1827.7" y="1114.5" letter-spacing="-1.52">g__Rikenella</text>
<rect x="1841.6" y="1119.1" width="511.2" height="18.0" fill="#ff0000" stroke="#000" stroke-width="1" />
<text x="1827.7" y="1136.7" letter-spacing="-1.52">g__Akkermansia</text>
<rect x="1841.6" y="1141.2" width="511.2" height="18.0" fill="#ff0000" stroke="#000" stroke-width="1" />
<text x="1827.7" y="1158.8" letter-spacing="-1.52">p__Verrucomicrobiota</text>
<rect x="1841.6" y="1163.4" width="511.2" height="18.0" fill="#ff0000" stroke="#000" stroke-width="1" />
<text x="1827.7" y="1181.0" letter-spacing="-1.52">f__Akkermansiaceae</text>
<rect x="1841.6" y="1185.6" width="511.2" height="18.0" fill="#ff0000" stroke="#000" stroke-width="1" />
<text x="1827.7" y="1203.2" letter-spacing="-1.52">c__Verrucomicrobiae</text>
<rect x="1841.6" y="1207.8" width="511.2" height="18.0" fill="#ff0000" stroke="#000" stroke-width="1" />
<text x="1827.7" y="1225.4" letter-spacing="-1.52">o__Verrucomicrobiales</text>
<rect x="1841.6" y="1229.9" width="471.8" height="18.0" fill="#ff0000" stroke="#000" stroke-width="1" />
<text x="1827.7" y="1247.5" letter-spacing="-1.52">o__Erysipelotrichales</text>
<rect x="1841.6" y="1252.1" width="471.8" height="18.0" fill="#ff0000" stroke="#000" stroke-width="1" />
<text x="1827.7" y="1269.7" letter-spacing="-1.52">f__Erysipelotrichaceae</text>
<rect x="1841.6" y="1274.3" width="455.4" height="18.0" fill="#ff0000" stroke="#000" stroke-width="1" />
<text x="1827.7" y="1291.9" letter-spacing="-1.52">g__Dubosiella</text>
<rect x="1841.6" y="1296.4" width="406.5" height="18.0" fill="#ff0000" stroke="#000" stroke-width="1" />
<text x="1827.7" y="1314.0" letter-spacing="-1.52">g__Turicibacter</text>
<rect x="1841.6" y="1318.6" width="397.0" height="18.0" fill="#ff0000" stroke="#000" stroke-width="1" />
<text x="1827.7" y="1336.2" letter-spacing="-1.52">g__Aerococcus</text>
<rect x="1841.6" y="1340.8" width="394.0" height="18.0" fill="#ff0000" stroke="#000" stroke-width="1" />
<text x="1827.7" y="1358.4" letter-spacing="-1.52">f__Aerococcaceae</text>
<rect x="1841.6" y="1363.0" width="377.1" height="18.0" fill="#ff0000" stroke="#000" stroke-width="1" />
<text x="1827.7" y="1380.5" letter-spacing="-1.52">g__Erysipelatoclostridium</text>
<rect x="1841.6" y="1385.1" width="361.1" height="18.0" fill="#ff0000" stroke="#000" stroke-width="1" />
<text x="1827.7" y="1402.7" letter-spacing="-1.52">g__Parvibacter</text>
</g>
<line x1="1841.6" y1="129.7" x2="1841.6" y2="1419.0" stroke="#000" stroke-width="1.2" />
<text x="1841.6" y="1444.0" font-size="24.3" text-anchor="middle" font-family="DejaVu Sans, sans-serif">0</text>
<line x1="1942.5" y1="129.7" x2="1942.5" y2="1419.0" stroke="#000" stroke-width="1.2" />
<text x="1942.5" y="1444.0" font-size="24.3" text-anchor="middle" font-family="DejaVu Sans, sans-serif">1</text>
<line x1="2043.4" y1="129.7" x2="2043.4" y2="1419.0" stroke="#000" stroke-width="1.2" />
<text x="2043.4" y="1444.0" font-size="24.3" text-anchor="middle" font-family="DejaVu Sans, sans-serif">2</text>
<line x1="2144.3" y1="129.7" x2="2144.3" y2="1419.0" stroke="#000" stroke-width="1.2" />
<text x="2144.3" y="1444.0" font-size="24.3" text-anchor="middle" font-family="DejaVu Sans, sans-serif">3</text>
<line x1="2245.2" y1="129.7" x2="2245.2" y2="1419.0" stroke="#000" stroke-width="1.2" />
<text x="2245.2" y="1444.0" font-size="24.3" text-anchor="middle" font-family="DejaVu Sans, sans-serif">4</text>
<line x1="2346.1" y1="129.7" x2="2346.1" y2="1419.0" stroke="#000" stroke-width="1.2" />
<text x="2346.1" y="1444.0" font-size="24.3" text-anchor="middle" font-family="DejaVu Sans, sans-serif">5</text>
<text x="2121.8" y="1470.0" font-size="24.3" text-anchor="middle" font-family="DejaVu Sans, sans-serif">LDA SCORE (log 10)</text>
<text x="119.0" y="1593.0" font-size="37" font-weight="bold">G</text>
<text x="0.0" y="0.0" font-size="27.6" text-anchor="middle" font-weight="bold" transform="translate(404.7 1621.0) scale(1.12 1)">abundance</text>
<path d="M273.7,1965.8 V1800.1 H310.3 V1965.8" fill="#8fbdf8" stroke="#000" stroke-width="3"/>
<path d="M335.4,1965.8 V1744.9 H371.7 V1965.8" fill="#fdbf7f" stroke="#000" stroke-width="3"/>
<path d="M498.1,1965.8 V1895.3 H534.0 V1965.8" fill="#fdbf7f" stroke="#000" stroke-width="3"/>
<line x1="434.0" y1="1964.6" x2="474.5" y2="1964.6" stroke="#000" stroke-width="1.6" />
<line x1="251.4" y1="1659.0" x2="251.4" y2="1967.3" stroke="#000" stroke-width="3" />
<line x1="238.4" y1="1965.8" x2="557.9" y2="1965.8" stroke="#000" stroke-width="3" />
<rect x="262.0" y="1801.5" width="120.0" height="23.2" fill="#fff" />
<rect x="245.0" y="1802.5" width="12.0" height="20.5" fill="#fff" />
<line x1="242.3" y1="1795.4" x2="260.2" y2="1813.2" stroke="#000" stroke-width="2.6" />
<line x1="242.3" y1="1813.2" x2="260.2" y2="1831.1" stroke="#000" stroke-width="2.6" />
<line x1="238.4" y1="1660.6" x2="251.4" y2="1660.6" stroke="#000" stroke-width="3" />
<text x="0.0" y="0.0" font-size="21.5" text-anchor="end" font-weight="bold" transform="translate(234.2 1668.3) scale(1.04 1)">0.6</text>
<line x1="238.4" y1="1712.0" x2="251.4" y2="1712.0" stroke="#000" stroke-width="3" />
<text x="0.0" y="0.0" font-size="21.5" text-anchor="end" font-weight="bold" transform="translate(234.2 1719.7) scale(1.04 1)">0.4</text>
<line x1="238.4" y1="1764.5" x2="251.4" y2="1764.5" stroke="#000" stroke-width="3" />
<text x="0.0" y="0.0" font-size="21.5" text-anchor="end" font-weight="bold" transform="translate(234.2 1772.2) scale(1.04 1)">0.2</text>
<line x1="238.4" y1="1824.6" x2="251.4" y2="1824.6" stroke="#000" stroke-width="3" />
<text x="0.0" y="0.0" font-size="21.5" text-anchor="end" font-weight="bold" transform="translate(234.2 1832.3) scale(1.04 1)">0.03</text>
<line x1="238.4" y1="1871.7" x2="251.4" y2="1871.7" stroke="#000" stroke-width="3" />
<text x="0.0" y="0.0" font-size="21.5" text-anchor="end" font-weight="bold" transform="translate(234.2 1879.4) scale(1.04 1)">0.02</text>
<line x1="238.4" y1="1918.8" x2="251.4" y2="1918.8" stroke="#000" stroke-width="3" />
<text x="0.0" y="0.0" font-size="21.5" text-anchor="end" font-weight="bold" transform="translate(234.2 1926.5) scale(1.04 1)">0.01</text>
<line x1="238.4" y1="1965.8" x2="251.4" y2="1965.8" stroke="#000" stroke-width="3" />
<text x="0.0" y="0.0" font-size="21.5" text-anchor="end" font-weight="bold" transform="translate(234.2 1973.5) scale(1.04 1)">0.00</text>
<line x1="322.5" y1="1965.8" x2="322.5" y2="1977.5" stroke="#000" stroke-width="3" />
<line x1="484.9" y1="1965.8" x2="484.9" y2="1977.5" stroke="#000" stroke-width="3" />
<line x1="292.0" y1="1793.8" x2="292.0" y2="1798.6" stroke="#000" stroke-width="1.6" />
<line x1="282.0" y1="1793.8" x2="302.0" y2="1793.8" stroke="#000" stroke-width="1.6" />
<line x1="353.5" y1="1716.8" x2="353.5" y2="1743.4" stroke="#000" stroke-width="1.6" />
<line x1="343.5" y1="1716.8" x2="363.5" y2="1716.8" stroke="#000" stroke-width="1.6" />
<line x1="516.0" y1="1858.4" x2="516.0" y2="1893.8" stroke="#000" stroke-width="1.6" />
<line x1="506.0" y1="1858.4" x2="526.0" y2="1858.4" stroke="#000" stroke-width="1.6" />
<path d="M291.7,1773.6 V1680.8 H353.7 V1700.3" fill="none" stroke="#000" stroke-width="4"/>
<path d="M454.4,1939.2 V1826.2 H527.1 V1839.9" fill="none" stroke="#000" stroke-width="4"/>
<text x="323.2" y="1666.5" font-size="18.3" text-anchor="middle" font-weight="bold">p=0.066</text>
<text x="491.5" y="1811.6" font-size="18.3" text-anchor="middle" font-weight="bold">p=0.062</text>
<text x="175.5" y="1812.6" font-size="25.5" text-anchor="middle" font-weight="bold" transform="rotate(-90 175.5 1812.6)">Ratio</text>
<text x="322.5" y="2002.2" font-size="23" text-anchor="middle" font-weight="bold">NK4A136</text>
<text x="484.9" y="2002.2" font-size="22.9" text-anchor="middle" font-weight="bold">UCG-006</text>
<text x="621.0" y="1593.0" font-size="37" font-weight="bold">H</text>
<text x="0.0" y="0.0" font-size="27.6" text-anchor="middle" font-weight="bold" transform="translate(865.2 1620.0) scale(1.12 1)">Acetic acid</text>
<path d="M733.9,1971.6 V1803.2 H771.0 V1971.6" fill="#8fbdf8" stroke="#000" stroke-width="4"/>
<path d="M796.2,1971.6 V1836.2 H832.8 V1971.6" fill="#fdbf7f" stroke="#000" stroke-width="4"/>
<path d="M899.1,1971.6 V1848.1 H936.0 V1971.6" fill="#8fbdf8" stroke="#000" stroke-width="4"/>
<path d="M960.8,1971.6 V1813.3 H998.0 V1971.6" fill="#fdbf7f" stroke="#000" stroke-width="4"/>
<line x1="711.0" y1="1659.1" x2="711.0" y2="1973.1" stroke="#000" stroke-width="3" />
<line x1="698.6" y1="1971.6" x2="1022.3" y2="1971.6" stroke="#000" stroke-width="3" />
<line x1="698.6" y1="1660.6" x2="711.0" y2="1660.6" stroke="#000" stroke-width="3" />
<text x="0.0" y="0.0" font-size="21.5" text-anchor="end" font-weight="bold" transform="translate(695.0 1668.3) scale(1.06 1)">60</text>
<line x1="698.6" y1="1764.3" x2="711.0" y2="1764.3" stroke="#000" stroke-width="3" />
<text x="0.0" y="0.0" font-size="21.5" text-anchor="end" font-weight="bold" transform="translate(695.0 1772.0) scale(1.06 1)">40</text>
<line x1="698.6" y1="1868.1" x2="711.0" y2="1868.1" stroke="#000" stroke-width="3" />
<text x="0.0" y="0.0" font-size="21.5" text-anchor="end" font-weight="bold" transform="translate(695.0 1875.8) scale(1.06 1)">20</text>
<line x1="698.6" y1="1971.6" x2="711.0" y2="1971.6" stroke="#000" stroke-width="3" />
<text x="0.0" y="0.0" font-size="21.5" text-anchor="end" font-weight="bold" transform="translate(695.0 1979.3) scale(1.06 1)">0</text>
<line x1="783.2" y1="1971.6" x2="783.2" y2="1984.1" stroke="#000" stroke-width="3" />
<line x1="948.4" y1="1971.6" x2="948.4" y2="1984.1" stroke="#000" stroke-width="3" />
<line x1="752.5" y1="1782.6" x2="752.5" y2="1801.2" stroke="#000" stroke-width="1.6" />
<line x1="742.5" y1="1782.6" x2="762.5" y2="1782.6" stroke="#000" stroke-width="1.6" />
<line x1="814.5" y1="1829.3" x2="814.5" y2="1834.2" stroke="#000" stroke-width="1.6" />
<line x1="804.5" y1="1829.3" x2="824.5" y2="1829.3" stroke="#000" stroke-width="1.6" />
<line x1="917.5" y1="1831.9" x2="917.5" y2="1846.1" stroke="#000" stroke-width="1.6" />
<line x1="907.5" y1="1831.9" x2="927.5" y2="1831.9" stroke="#000" stroke-width="1.6" />
<line x1="979.4" y1="1793.9" x2="979.4" y2="1811.3" stroke="#000" stroke-width="1.6" />
<line x1="969.4" y1="1793.9" x2="989.4" y2="1793.9" stroke="#000" stroke-width="1.6" />
<text x="655.5" y="1816.5" font-size="25.5" text-anchor="middle" font-weight="bold" transform="rotate(-90 655.5 1816.5)">Concentration (mM)</text>
<text x="783.2" y="2009.9" font-size="22.8" text-anchor="middle" font-weight="bold">EXE</text>
<text x="948.4" y="2009.9" font-size="22.7" text-anchor="middle" font-weight="bold">NEXE</text>
<text x="0.0" y="0.0" font-size="20.3" transform="translate(747.2 1676.8) scale(1.035 1)">EXE:p=0.446</text>
<text x="0.0" y="0.0" font-size="20.3" transform="translate(747.2 1701.7) scale(1.035 1)">SD:p=0.961</text>
<text x="0.0" y="0.0" font-size="20.3" transform="translate(747.2 1726.4) scale(1.035 1)">EXE×SD : p=0.026</text>
<text x="1097.0" y="1593.0" font-size="37" font-weight="bold">I</text>
<text x="0.0" y="0.0" font-size="27.6" text-anchor="middle" font-weight="bold" transform="translate(1352.5 1621.7) scale(1.12 1)">Propionic acid</text>
<path d="M1220.3,1973.6 V1753.3 H1257.7 V1973.6" fill="#8fbdf8" stroke="#000" stroke-width="4"/>
<path d="M1282.6,1973.6 V1795.3 H1319.2 V1973.6" fill="#fdbf7f" stroke="#000" stroke-width="4"/>
<path d="M1385.8,1973.6 V1766.9 H1422.3 V1973.6" fill="#8fbdf8" stroke="#000" stroke-width="4"/>
<path d="M1447.2,1973.6 V1733.0 H1484.4 V1973.6" fill="#fdbf7f" stroke="#000" stroke-width="4"/>
<line x1="1197.4" y1="1660.5" x2="1197.4" y2="1975.1" stroke="#000" stroke-width="3" />
<line x1="1184.9" y1="1973.6" x2="1509.0" y2="1973.6" stroke="#000" stroke-width="3" />
<line x1="1184.9" y1="1662.0" x2="1197.4" y2="1662.0" stroke="#000" stroke-width="3" />
<text x="0.0" y="0.0" font-size="21.5" text-anchor="end" font-weight="bold" transform="translate(1181.4 1669.7) scale(1.06 1)">10</text>
<line x1="1184.9" y1="1724.6" x2="1197.4" y2="1724.6" stroke="#000" stroke-width="3" />
<text x="0.0" y="0.0" font-size="21.5" text-anchor="end" font-weight="bold" transform="translate(1181.4 1732.3) scale(1.06 1)">8</text>
<line x1="1184.9" y1="1787.0" x2="1197.4" y2="1787.0" stroke="#000" stroke-width="3" />
<text x="0.0" y="0.0" font-size="21.5" text-anchor="end" font-weight="bold" transform="translate(1181.4 1794.7) scale(1.06 1)">6</text>
<line x1="1184.9" y1="1849.0" x2="1197.4" y2="1849.0" stroke="#000" stroke-width="3" />
<text x="0.0" y="0.0" font-size="21.5" text-anchor="end" font-weight="bold" transform="translate(1181.4 1856.7) scale(1.06 1)">4</text>
<line x1="1184.9" y1="1911.6" x2="1197.4" y2="1911.6" stroke="#000" stroke-width="3" />
<text x="0.0" y="0.0" font-size="21.5" text-anchor="end" font-weight="bold" transform="translate(1181.4 1919.3) scale(1.06 1)">2</text>
<line x1="1184.9" y1="1973.6" x2="1197.4" y2="1973.6" stroke="#000" stroke-width="3" />
<text x="0.0" y="0.0" font-size="21.5" text-anchor="end" font-weight="bold" transform="translate(1181.4 1981.3) scale(1.06 1)">0</text>
<line x1="1269.9" y1="1973.6" x2="1269.9" y2="1986.1" stroke="#000" stroke-width="3" />
<line x1="1435.0" y1="1973.6" x2="1435.0" y2="1986.1" stroke="#000" stroke-width="3" />
<line x1="1239.0" y1="1728.4" x2="1239.0" y2="1751.3" stroke="#000" stroke-width="1.6" />
<line x1="1229.0" y1="1728.4" x2="1249.0" y2="1728.4" stroke="#000" stroke-width="1.6" />
<line x1="1300.9" y1="1783.2" x2="1300.9" y2="1793.3" stroke="#000" stroke-width="1.6" />
<line x1="1290.9" y1="1783.2" x2="1310.9" y2="1783.2" stroke="#000" stroke-width="1.6" />
<line x1="1404.0" y1="1733.3" x2="1404.0" y2="1764.9" stroke="#000" stroke-width="1.6" />
<line x1="1394.0" y1="1733.3" x2="1414.0" y2="1733.3" stroke="#000" stroke-width="1.6" />
<line x1="1465.8" y1="1707.8" x2="1465.8" y2="1731.0" stroke="#000" stroke-width="1.6" />
<line x1="1455.8" y1="1707.8" x2="1475.8" y2="1707.8" stroke="#000" stroke-width="1.6" />
<text x="1141.2" y="1818.0" font-size="25.5" text-anchor="middle" font-weight="bold" transform="rotate(-90 1141.2 1818.0)">Concentration (mM)</text>
<text x="1269.9" y="2011.3" font-size="22.8" text-anchor="middle" font-weight="bold">EXE</text>
<text x="1435.0" y="2011.3" font-size="22.7" text-anchor="middle" font-weight="bold">NEXE</text>
<text x="1586.0" y="1593.0" font-size="37" font-weight="bold">J</text>
<text x="0.0" y="0.0" font-size="27.6" text-anchor="middle" font-weight="bold" transform="translate(1825.0 1618.4) scale(1.12 1)">Butyric acid</text>
<path d="M1691.4,1972.2 V1831.6 H1728.4 V1972.2" fill="#8fbdf8" stroke="#000" stroke-width="4"/>
<path d="M1754.0,1972.2 V1843.7 H1791.0 V1972.2" fill="#fdbf7f" stroke="#000" stroke-width="4"/>
<path d="M1858.3,1972.2 V1889.0 H1895.4 V1972.2" fill="#8fbdf8" stroke="#000" stroke-width="4"/>
<path d="M1920.3,1972.2 V1845.5 H1957.3 V1972.2" fill="#fdbf7f" stroke="#000" stroke-width="4"/>
<line x1="1668.9" y1="1657.6" x2="1668.9" y2="1973.7" stroke="#000" stroke-width="3" />
<line x1="1655.7" y1="1972.2" x2="1981.9" y2="1972.2" stroke="#000" stroke-width="3" />
<line x1="1655.7" y1="1659.1" x2="1668.9" y2="1659.1" stroke="#000" stroke-width="3" />
<text x="0.0" y="0.0" font-size="21.5" text-anchor="end" font-weight="bold" transform="translate(1652.2 1666.8) scale(1.06 1)">15</text>
<line x1="1655.7" y1="1763.8" x2="1668.9" y2="1763.8" stroke="#000" stroke-width="3" />
<text x="0.0" y="0.0" font-size="21.5" text-anchor="end" font-weight="bold" transform="translate(1652.2 1771.5) scale(1.06 1)">10</text>
<line x1="1655.7" y1="1868.2" x2="1668.9" y2="1868.2" stroke="#000" stroke-width="3" />
<text x="0.0" y="0.0" font-size="21.5" text-anchor="end" font-weight="bold" transform="translate(1652.2 1875.9) scale(1.06 1)">5</text>
<line x1="1655.7" y1="1972.2" x2="1668.9" y2="1972.2" stroke="#000" stroke-width="3" />
<text x="0.0" y="0.0" font-size="21.5" text-anchor="end" font-weight="bold" transform="translate(1652.2 1979.9) scale(1.06 1)">0</text>
<line x1="1740.9" y1="1972.2" x2="1740.9" y2="1984.7" stroke="#000" stroke-width="3" />
<line x1="1907.8" y1="1972.2" x2="1907.8" y2="1984.7" stroke="#000" stroke-width="3" />
<line x1="1709.9" y1="1816.7" x2="1709.9" y2="1829.6" stroke="#000" stroke-width="1.6" />
<line x1="1699.9" y1="1816.7" x2="1719.9" y2="1816.7" stroke="#000" stroke-width="1.6" />
<line x1="1772.5" y1="1835.8" x2="1772.5" y2="1841.7" stroke="#000" stroke-width="1.6" />
<line x1="1762.5" y1="1835.8" x2="1782.5" y2="1835.8" stroke="#000" stroke-width="1.6" />
<line x1="1876.8" y1="1874.8" x2="1876.8" y2="1887.0" stroke="#000" stroke-width="1.6" />
<line x1="1866.8" y1="1874.8" x2="1886.8" y2="1874.8" stroke="#000" stroke-width="1.6" />
<line x1="1938.8" y1="1828.9" x2="1938.8" y2="1843.5" stroke="#000" stroke-width="1.6" />
<line x1="1928.8" y1="1828.9" x2="1948.8" y2="1828.9" stroke="#000" stroke-width="1.6" />
<text x="1611.5" y="1817.4" font-size="25.5" text-anchor="middle" font-weight="bold" transform="rotate(-90 1611.5 1817.4)">Concentration (mM)</text>
<text x="1740.9" y="2009.7" font-size="22.8" text-anchor="middle" font-weight="bold">EXE</text>
<text x="1907.8" y="2009.7" font-size="22.7" text-anchor="middle" font-weight="bold">NEXE</text>
<text x="0.0" y="0.0" font-size="20.3" transform="translate(1704.3 1675.5) scale(1.035 1)">EXE:p=0.019</text>
<text x="0.0" y="0.0" font-size="20.3" transform="translate(1704.3 1700.2) scale(1.035 1)">SD:p=0.198</text>
<text x="0.0" y="0.0" font-size="20.3" transform="translate(1704.3 1725.2) scale(1.035 1)">EXE×SD : p=0.025</text>
<path d="M1709.6,1809.7 V1791.3 H1875.5 V1865.4" fill="none" stroke="#000" stroke-width="4"/>
<text x="1792.3" y="1787.0" font-size="34" text-anchor="middle" font-weight="bold">*</text>
<rect x="1996.3" y="1675.2" width="29.0" height="13.0" fill="#8fbdf8" stroke="#000" stroke-width="3" />
<rect x="1996.3" y="1717.0" width="29.0" height="13.0" fill="#fdbf7f" stroke="#000" stroke-width="3" />
<text x="2047.0" y="1689.7" font-size="24.3" font-weight="bold">SD</text>
<text x="2047.0" y="1731.5" font-size="24.6" font-weight="bold">NSD</text>
<text x="119.5" y="2065.0" font-size="37" font-weight="bold">K</text>
<rect x="249.0" y="2059.8" width="1760.2" height="509.2" fill="#ebebeb" />
<line x1="290.3" y1="2059.8" x2="290.3" y2="2569.0" stroke="#fff" stroke-width="2" />
<line x1="360.2" y1="2059.8" x2="360.2" y2="2569.0" stroke="#fff" stroke-width="2" />
<line x1="430.1" y1="2059.8" x2="430.1" y2="2569.0" stroke="#fff" stroke-width="2" />
<line x1="500.0" y1="2059.8" x2="500.0" y2="2569.0" stroke="#fff" stroke-width="2" />
<line x1="569.9" y1="2059.8" x2="569.9" y2="2569.0" stroke="#fff" stroke-width="2" />
<line x1="639.8" y1="2059.8" x2="639.8" y2="2569.0" stroke="#fff" stroke-width="2" />
<line x1="709.7" y1="2059.8" x2="709.7" y2="2569.0" stroke="#fff" stroke-width="2" />
<line x1="779.6" y1="2059.8" x2="779.6" y2="2569.0" stroke="#fff" stroke-width="2" />
<line x1="849.5" y1="2059.8" x2="849.5" y2="2569.0" stroke="#fff" stroke-width="2" />
<line x1="919.4" y1="2059.8" x2="919.4" y2="2569.0" stroke="#fff" stroke-width="2" />
<line x1="989.4" y1="2059.8" x2="989.4" y2="2569.0" stroke="#fff" stroke-width="2" />
<line x1="1059.3" y1="2059.8" x2="1059.3" y2="2569.0" stroke="#fff" stroke-width="2" />
<line x1="1129.2" y1="2059.8" x2="1129.2" y2="2569.0" stroke="#fff" stroke-width="2" />
<line x1="1199.1" y1="2059.8" x2="1199.1" y2="2569.0" stroke="#fff" stroke-width="2" />
<line x1="1269.0" y1="2059.8" x2="1269.0" y2="2569.0" stroke="#fff" stroke-width="2" />
<line x1="1338.9" y1="2059.8" x2="1338.9" y2="2569.0" stroke="#fff" stroke-width="2" />
<line x1="1408.8" y1="2059.8" x2="1408.8" y2="2569.0" stroke="#fff" stroke-width="2" />
<line x1="1478.7" y1="2059.8" x2="1478.7" y2="2569.0" stroke="#fff" stroke-width="2" />
<line x1="1548.6" y1="2059.8" x2="1548.6" y2="2569.0" stroke="#fff" stroke-width="2" />
<line x1="1618.5" y1="2059.8" x2="1618.5" y2="2569.0" stroke="#fff" stroke-width="2" />
<line x1="1688.5" y1="2059.8" x2="1688.5" y2="2569.0" stroke="#fff" stroke-width="2" />
<line x1="1758.4" y1="2059.8" x2="1758.4" y2="2569.0" stroke="#fff" stroke-width="2" />
<line x1="1828.3" y1="2059.8" x2="1828.3" y2="2569.0" stroke="#fff" stroke-width="2" />
<line x1="1898.2" y1="2059.8" x2="1898.2" y2="2569.0" stroke="#fff" stroke-width="2" />
<line x1="1968.1" y1="2059.8" x2="1968.1" y2="2569.0" stroke="#fff" stroke-width="2" />
<line x1="249.0" y1="2102.7" x2="2009.2" y2="2102.7" stroke="#fff" stroke-width="2" />
<line x1="249.0" y1="2173.4" x2="2009.2" y2="2173.4" stroke="#fff" stroke-width="2" />
<line x1="249.0" y1="2244.1" x2="2009.2" y2="2244.1" stroke="#fff" stroke-width="2" />
<line x1="249.0" y1="2314.8" x2="2009.2" y2="2314.8" stroke="#fff" stroke-width="2" />
<line x1="249.0" y1="2385.5" x2="2009.2" y2="2385.5" stroke="#fff" stroke-width="2" />
<line x1="249.0" y1="2456.3" x2="2009.2" y2="2456.3" stroke="#fff" stroke-width="2" />
<line x1="249.0" y1="2527.0" x2="2009.2" y2="2527.0" stroke="#fff" stroke-width="2" />
<g shape-rendering="crispEdges">
<rect x="255.3" y="2067.3" width="70.2" height="71.0" fill="#d5d9ed" />
<rect x="325.2" y="2067.3" width="70.2" height="71.0" fill="#fff8f5" />
<rect x="395.1" y="2067.3" width="70.2" height="71.0" fill="#feb898" />
<rect x="465.0" y="2067.3" width="70.2" height="71.0" fill="#b2badf" />
<rect x="534.9" y="2067.3" width="70.2" height="71.0" fill="#ffeae0" />
<rect x="604.8" y="2067.3" width="70.2" height="71.0" fill="#e6e9f4" />
<rect x="674.8" y="2067.3" width="70.2" height="71.0" fill="#fed4c1" />
<rect x="744.7" y="2067.3" width="70.2" height="71.0" fill="#ffeae0" />
<rect x="814.6" y="2067.3" width="70.2" height="71.0" fill="#cbd1e9" />
<rect x="884.5" y="2067.3" width="70.2" height="71.0" fill="#fda983" />
<rect x="954.4" y="2067.3" width="70.2" height="71.0" fill="#a8b2db" />
<rect x="1024.3" y="2067.3" width="70.2" height="71.0" fill="#fbfcfd" />
<rect x="1094.2" y="2067.3" width="70.2" height="71.0" fill="#fee2d6" />
<rect x="1164.1" y="2067.3" width="70.2" height="71.0" fill="#ffffff" />
<rect x="1234.0" y="2067.3" width="70.2" height="71.0" fill="#e6e9f4" />
<rect x="1303.9" y="2067.3" width="70.2" height="71.0" fill="#b8bfe1" />
<rect x="1373.9" y="2067.3" width="70.2" height="71.0" fill="#9ba6d5" />
<rect x="1443.8" y="2067.3" width="70.2" height="71.0" fill="#fec6ac" />
<rect x="1513.7" y="2067.3" width="70.2" height="71.0" fill="#c1c8e5" />
<rect x="1583.6" y="2067.3" width="70.2" height="71.0" fill="#bfc6e4" />
<rect x="1653.5" y="2067.3" width="70.2" height="71.0" fill="#a4aed9" />
<rect x="1723.4" y="2067.3" width="70.2" height="71.0" fill="#b0b8de" />
<rect x="1793.3" y="2067.3" width="70.2" height="71.0" fill="#f5f6fb" />
<rect x="1863.2" y="2067.3" width="70.2" height="71.0" fill="#e6e9f4" />
<rect x="1933.1" y="2067.3" width="70.2" height="71.0" fill="#ffeee6" />
<rect x="255.3" y="2138.0" width="70.2" height="71.0" fill="#fed8c7" />
<rect x="325.2" y="2138.0" width="70.2" height="71.0" fill="#f5f6fb" />
<rect x="395.1" y="2138.0" width="70.2" height="71.0" fill="#8f9bd0" />
<rect x="465.0" y="2138.0" width="70.2" height="71.0" fill="#fed8c7" />
<rect x="534.9" y="2138.0" width="70.2" height="71.0" fill="#fffbf9" />
<rect x="604.8" y="2138.0" width="70.2" height="71.0" fill="#fee2d6" />
<rect x="674.8" y="2138.0" width="70.2" height="71.0" fill="#d5d9ed" />
<rect x="744.7" y="2138.0" width="70.2" height="71.0" fill="#e8eaf5" />
<rect x="814.6" y="2138.0" width="70.2" height="71.0" fill="#fff8f5" />
<rect x="884.5" y="2138.0" width="70.2" height="71.0" fill="#bbc3e3" />
<rect x="954.4" y="2138.0" width="70.2" height="71.0" fill="#fee5da" />
<rect x="1024.3" y="2138.0" width="70.2" height="71.0" fill="#fee0d1" />
<rect x="1094.2" y="2138.0" width="70.2" height="71.0" fill="#e6e9f4" />
<rect x="1164.1" y="2138.0" width="70.2" height="71.0" fill="#eaecf6" />
<rect x="1234.0" y="2138.0" width="70.2" height="71.0" fill="#fec6ac" />
<rect x="1303.9" y="2138.0" width="70.2" height="71.0" fill="#e8eaf5" />
<rect x="1373.9" y="2138.0" width="70.2" height="71.0" fill="#fecdb7" />
<rect x="1443.8" y="2138.0" width="70.2" height="71.0" fill="#e4e7f4" />
<rect x="1513.7" y="2138.0" width="70.2" height="71.0" fill="#fec6ac" />
<rect x="1583.6" y="2138.0" width="70.2" height="71.0" fill="#fec6ac" />
<rect x="1653.5" y="2138.0" width="70.2" height="71.0" fill="#fee0d1" />
<rect x="1723.4" y="2138.0" width="70.2" height="71.0" fill="#fffbf9" />
<rect x="1793.3" y="2138.0" width="70.2" height="71.0" fill="#ffe8de" />
<rect x="1863.2" y="2138.0" width="70.2" height="71.0" fill="#fedbcb" />
<rect x="1933.1" y="2138.0" width="70.2" height="71.0" fill="#eef0f8" />
<rect x="255.3" y="2208.7" width="70.2" height="71.0" fill="#fee7dc" />
<rect x="325.2" y="2208.7" width="70.2" height="71.0" fill="#f9fafd" />
<rect x="395.1" y="2208.7" width="70.2" height="71.0" fill="#a8b2db" />
<rect x="465.0" y="2208.7" width="70.2" height="71.0" fill="#fecdb7" />
<rect x="534.9" y="2208.7" width="70.2" height="71.0" fill="#e4e7f4" />
<rect x="604.8" y="2208.7" width="70.2" height="71.0" fill="#e6e9f4" />
<rect x="674.8" y="2208.7" width="70.2" height="71.0" fill="#f1f3f9" />
<rect x="744.7" y="2208.7" width="70.2" height="71.0" fill="#d5d9ed" />
<rect x="814.6" y="2208.7" width="70.2" height="71.0" fill="#fecdb7" />
<rect x="884.5" y="2208.7" width="70.2" height="71.0" fill="#8794cd" />
<rect x="954.4" y="2208.7" width="70.2" height="71.0" fill="#fed8c7" />
<rect x="1024.3" y="2208.7" width="70.2" height="71.0" fill="#fee2d6" />
<rect x="1094.2" y="2208.7" width="70.2" height="71.0" fill="#cfd4eb" />
<rect x="1164.1" y="2208.7" width="70.2" height="71.0" fill="#f3f5fa" />
<rect x="1234.0" y="2208.7" width="70.2" height="71.0" fill="#eef0f8" />
<rect x="1303.9" y="2208.7" width="70.2" height="71.0" fill="#fed0bb" />
<rect x="1373.9" y="2208.7" width="70.2" height="71.0" fill="#fec3a8" />
<rect x="1443.8" y="2208.7" width="70.2" height="71.0" fill="#d5d9ed" />
<rect x="1513.7" y="2208.7" width="70.2" height="71.0" fill="#fff1ea" />
<rect x="1583.6" y="2208.7" width="70.2" height="71.0" fill="#fed8c7" />
<rect x="1653.5" y="2208.7" width="70.2" height="71.0" fill="#fedbcb" />
<rect x="1723.4" y="2208.7" width="70.2" height="71.0" fill="#fed8c7" />
<rect x="1793.3" y="2208.7" width="70.2" height="71.0" fill="#d8ddef" />
<rect x="1863.2" y="2208.7" width="70.2" height="71.0" fill="#fff6f3" />
<rect x="1933.1" y="2208.7" width="70.2" height="71.0" fill="#fff6f3" />
<rect x="255.3" y="2279.5" width="70.2" height="71.0" fill="#f3f5fa" />
<rect x="325.2" y="2279.5" width="70.2" height="71.0" fill="#fff5f1" />
<rect x="395.1" y="2279.5" width="70.2" height="71.0" fill="#feb898" />
<rect x="465.0" y="2279.5" width="70.2" height="71.0" fill="#d5d9ed" />
<rect x="534.9" y="2279.5" width="70.2" height="71.0" fill="#c5cbe7" />
<rect x="604.8" y="2279.5" width="70.2" height="71.0" fill="#c5cbe7" />
<rect x="674.8" y="2279.5" width="70.2" height="71.0" fill="#fed8c7" />
<rect x="744.7" y="2279.5" width="70.2" height="71.0" fill="#feb898" />
<rect x="814.6" y="2279.5" width="70.2" height="71.0" fill="#e8eaf5" />
<rect x="884.5" y="2279.5" width="70.2" height="71.0" fill="#fec9b0" />
<rect x="954.4" y="2279.5" width="70.2" height="71.0" fill="#d5d9ed" />
<rect x="1024.3" y="2279.5" width="70.2" height="71.0" fill="#eef0f8" />
<rect x="1094.2" y="2279.5" width="70.2" height="71.0" fill="#f9fafd" />
<rect x="1164.1" y="2279.5" width="70.2" height="71.0" fill="#febfa2" />
<rect x="1234.0" y="2279.5" width="70.2" height="71.0" fill="#9ea9d6" />
<rect x="1303.9" y="2279.5" width="70.2" height="71.0" fill="#fec6ac" />
<rect x="1373.9" y="2279.5" width="70.2" height="71.0" fill="#cfd4eb" />
<rect x="1443.8" y="2279.5" width="70.2" height="71.0" fill="#feddcd" />
<rect x="1513.7" y="2279.5" width="70.2" height="71.0" fill="#bfc6e4" />
<rect x="1583.6" y="2279.5" width="70.2" height="71.0" fill="#eef0f8" />
<rect x="1653.5" y="2279.5" width="70.2" height="71.0" fill="#ffffff" />
<rect x="1723.4" y="2279.5" width="70.2" height="71.0" fill="#e0e3f2" />
<rect x="1793.3" y="2279.5" width="70.2" height="71.0" fill="#fffbf9" />
<rect x="1863.2" y="2279.5" width="70.2" height="71.0" fill="#fff6f3" />
<rect x="1933.1" y="2279.5" width="70.2" height="71.0" fill="#f0f1f9" />
<rect x="255.3" y="2350.2" width="70.2" height="71.0" fill="#fffbf9" />
<rect x="325.2" y="2350.2" width="70.2" height="71.0" fill="#f0f1f9" />
<rect x="395.1" y="2350.2" width="70.2" height="71.0" fill="#fdb593" />
<rect x="465.0" y="2350.2" width="70.2" height="71.0" fill="#a8b2db" />
<rect x="534.9" y="2350.2" width="70.2" height="71.0" fill="#f7f8fc" />
<rect x="604.8" y="2350.2" width="70.2" height="71.0" fill="#f5f6fb" />
<rect x="674.8" y="2350.2" width="70.2" height="71.0" fill="#fed8c7" />
<rect x="744.7" y="2350.2" width="70.2" height="71.0" fill="#fed1bd" />
<rect x="814.6" y="2350.2" width="70.2" height="71.0" fill="#b8bfe1" />
<rect x="884.5" y="2350.2" width="70.2" height="71.0" fill="#fda67f" />
<rect x="954.4" y="2350.2" width="70.2" height="71.0" fill="#c5cbe7" />
<rect x="1024.3" y="2350.2" width="70.2" height="71.0" fill="#f7f8fc" />
<rect x="1094.2" y="2350.2" width="70.2" height="71.0" fill="#ffe8de" />
<rect x="1164.1" y="2350.2" width="70.2" height="71.0" fill="#fee0d1" />
<rect x="1234.0" y="2350.2" width="70.2" height="71.0" fill="#f0f1f9" />
<rect x="1303.9" y="2350.2" width="70.2" height="71.0" fill="#e6e9f4" />
<rect x="1373.9" y="2350.2" width="70.2" height="71.0" fill="#828fca" />
<rect x="1443.8" y="2350.2" width="70.2" height="71.0" fill="#feb898" />
<rect x="1513.7" y="2350.2" width="70.2" height="71.0" fill="#c5cbe7" />
<rect x="1583.6" y="2350.2" width="70.2" height="71.0" fill="#bbc3e3" />
<rect x="1653.5" y="2350.2" width="70.2" height="71.0" fill="#c1c8e5" />
<rect x="1723.4" y="2350.2" width="70.2" height="71.0" fill="#a8b2db" />
<rect x="1793.3" y="2350.2" width="70.2" height="71.0" fill="#dee2f1" />
<rect x="1863.2" y="2350.2" width="70.2" height="71.0" fill="#fbfcfd" />
<rect x="1933.1" y="2350.2" width="70.2" height="71.0" fill="#fdfdfe" />
<rect x="255.3" y="2420.9" width="70.2" height="71.0" fill="#fed4c1" />
<rect x="325.2" y="2420.9" width="70.2" height="71.0" fill="#fed8c7" />
<rect x="395.1" y="2420.9" width="70.2" height="71.0" fill="#ffebe2" />
<rect x="465.0" y="2420.9" width="70.2" height="71.0" fill="#ffffff" />
<rect x="534.9" y="2420.9" width="70.2" height="71.0" fill="#cbd1e9" />
<rect x="604.8" y="2420.9" width="70.2" height="71.0" fill="#a8b2db" />
<rect x="674.8" y="2420.9" width="70.2" height="71.0" fill="#fedbcb" />
<rect x="744.7" y="2420.9" width="70.2" height="71.0" fill="#fec6ac" />
<rect x="814.6" y="2420.9" width="70.2" height="71.0" fill="#ffffff" />
<rect x="884.5" y="2420.9" width="70.2" height="71.0" fill="#fff8f5" />
<rect x="954.4" y="2420.9" width="70.2" height="71.0" fill="#eef0f8" />
<rect x="1024.3" y="2420.9" width="70.2" height="71.0" fill="#e8eaf5" />
<rect x="1094.2" y="2420.9" width="70.2" height="71.0" fill="#aeb7dd" />
<rect x="1164.1" y="2420.9" width="70.2" height="71.0" fill="#fec6ac" />
<rect x="1234.0" y="2420.9" width="70.2" height="71.0" fill="#9ea9d6" />
<rect x="1303.9" y="2420.9" width="70.2" height="71.0" fill="#fed8c7" />
<rect x="1373.9" y="2420.9" width="70.2" height="71.0" fill="#f7f8fc" />
<rect x="1443.8" y="2420.9" width="70.2" height="71.0" fill="#ffebe2" />
<rect x="1513.7" y="2420.9" width="70.2" height="71.0" fill="#d5d9ed" />
<rect x="1583.6" y="2420.9" width="70.2" height="71.0" fill="#f5f6fb" />
<rect x="1653.5" y="2420.9" width="70.2" height="71.0" fill="#f5f6fb" />
<rect x="1723.4" y="2420.9" width="70.2" height="71.0" fill="#fffbf9" />
<rect x="1793.3" y="2420.9" width="70.2" height="71.0" fill="#f5f6fb" />
<rect x="1863.2" y="2420.9" width="70.2" height="71.0" fill="#fdfdfe" />
<rect x="1933.1" y="2420.9" width="70.2" height="71.0" fill="#f0f1f9" />
<rect x="255.3" y="2491.6" width="70.2" height="71.0" fill="#fff1ea" />
<rect x="325.2" y="2491.6" width="70.2" height="71.0" fill="#f9fafd" />
<rect x="395.1" y="2491.6" width="70.2" height="71.0" fill="#fda983" />
<rect x="465.0" y="2491.6" width="70.2" height="71.0" fill="#8f9bd0" />
<rect x="534.9" y="2491.6" width="70.2" height="71.0" fill="#cfd4eb" />
<rect x="604.8" y="2491.6" width="70.2" height="71.0" fill="#dce0f0" />
<rect x="674.8" y="2491.6" width="70.2" height="71.0" fill="#fda983" />
<rect x="744.7" y="2491.6" width="70.2" height="71.0" fill="#fecdb7" />
<rect x="814.6" y="2491.6" width="70.2" height="71.0" fill="#d8ddef" />
<rect x="884.5" y="2491.6" width="70.2" height="71.0" fill="#fdb08d" />
<rect x="954.4" y="2491.6" width="70.2" height="71.0" fill="#bac1e2" />
<rect x="1024.3" y="2491.6" width="70.2" height="71.0" fill="#e8eaf5" />
<rect x="1094.2" y="2491.6" width="70.2" height="71.0" fill="#ffe8de" />
<rect x="1164.1" y="2491.6" width="70.2" height="71.0" fill="#fee5da" />
<rect x="1234.0" y="2491.6" width="70.2" height="71.0" fill="#c9cfe8" />
<rect x="1303.9" y="2491.6" width="70.2" height="71.0" fill="#eef0f8" />
<rect x="1373.9" y="2491.6" width="70.2" height="71.0" fill="#aeb7dd" />
<rect x="1443.8" y="2491.6" width="70.2" height="71.0" fill="#fec6ac" />
<rect x="1513.7" y="2491.6" width="70.2" height="71.0" fill="#99a4d4" />
<rect x="1583.6" y="2491.6" width="70.2" height="71.0" fill="#c5cbe7" />
<rect x="1653.5" y="2491.6" width="70.2" height="71.0" fill="#cbd1e9" />
<rect x="1723.4" y="2491.6" width="70.2" height="71.0" fill="#a8b2db" />
<rect x="1793.3" y="2491.6" width="70.2" height="71.0" fill="#f9fafd" />
<rect x="1863.2" y="2491.6" width="70.2" height="71.0" fill="#eaecf6" />
<rect x="1933.1" y="2491.6" width="70.2" height="71.0" fill="#eaecf6" />
</g>
<line x1="242.8" y1="2102.7" x2="249.0" y2="2102.7" stroke="#333" stroke-width="2" />
<text x="236.4" y="2112.3" font-size="27" text-anchor="end" font-weight="bold" fill="#4d4d4d">eWAT</text>
<text x="430.1" y="2108.7" font-size="36" text-anchor="middle" font-family="DejaVu Sans, sans-serif" letter-spacing="1.5" stroke="#000" stroke-width="0.7">*</text>
<text x="919.4" y="2108.7" font-size="36" text-anchor="middle" font-family="DejaVu Sans, sans-serif" letter-spacing="1.5" stroke="#000" stroke-width="0.7">**</text>
<text x="989.4" y="2108.7" font-size="36" text-anchor="middle" font-family="DejaVu Sans, sans-serif" letter-spacing="1.5" stroke="#000" stroke-width="0.7">*</text>
<text x="1408.8" y="2108.7" font-size="36" text-anchor="middle" font-family="DejaVu Sans, sans-serif" letter-spacing="1.5" stroke="#000" stroke-width="0.7">**</text>
<text x="1688.5" y="2108.7" font-size="36" text-anchor="middle" font-family="DejaVu Sans, sans-serif" letter-spacing="1.5" stroke="#000" stroke-width="0.7">*</text>
<text x="1758.4" y="2108.7" font-size="36" text-anchor="middle" font-family="DejaVu Sans, sans-serif" letter-spacing="1.5" stroke="#000" stroke-width="0.7">*</text>
<line x1="242.8" y1="2173.4" x2="249.0" y2="2173.4" stroke="#333" stroke-width="2" />
<text x="236.4" y="2183.0" font-size="27" text-anchor="end" font-weight="bold" fill="#4d4d4d">iWAT</text>
<text x="430.1" y="2179.4" font-size="36" text-anchor="middle" font-family="DejaVu Sans, sans-serif" letter-spacing="1.5" stroke="#000" stroke-width="0.7">**</text>
<line x1="242.8" y1="2244.1" x2="249.0" y2="2244.1" stroke="#333" stroke-width="2" />
<text x="236.4" y="2253.7" font-size="27" text-anchor="end" font-weight="bold" fill="#4d4d4d">iBAT</text>
<text x="430.1" y="2250.1" font-size="36" text-anchor="middle" font-family="DejaVu Sans, sans-serif" letter-spacing="1.5" stroke="#000" stroke-width="0.7">*</text>
<text x="919.4" y="2250.1" font-size="36" text-anchor="middle" font-family="DejaVu Sans, sans-serif" letter-spacing="1.5" stroke="#000" stroke-width="0.7">**</text>
<text x="1408.8" y="2250.1" font-size="36" text-anchor="middle" font-family="DejaVu Sans, sans-serif" letter-spacing="1.5" stroke="#000" stroke-width="0.7">*</text>
<line x1="242.8" y1="2314.8" x2="249.0" y2="2314.8" stroke="#333" stroke-width="2" />
<text x="236.4" y="2324.4" font-size="27" text-anchor="end" font-weight="bold" fill="#4d4d4d">T3</text>
<text x="430.1" y="2320.8" font-size="36" text-anchor="middle" font-family="DejaVu Sans, sans-serif" letter-spacing="1.5" stroke="#000" stroke-width="0.7">*</text>
<text x="779.6" y="2320.8" font-size="36" text-anchor="middle" font-family="DejaVu Sans, sans-serif" letter-spacing="1.5" stroke="#000" stroke-width="0.7">*</text>
<text x="1199.1" y="2320.8" font-size="36" text-anchor="middle" font-family="DejaVu Sans, sans-serif" letter-spacing="1.5" stroke="#000" stroke-width="0.7">*</text>
<text x="1269.0" y="2320.8" font-size="36" text-anchor="middle" font-family="DejaVu Sans, sans-serif" letter-spacing="1.5" stroke="#000" stroke-width="0.7">*</text>
<line x1="242.8" y1="2385.5" x2="249.0" y2="2385.5" stroke="#333" stroke-width="2" />
<text x="236.4" y="2395.1" font-size="27" text-anchor="end" font-weight="bold" fill="#4d4d4d">LPS</text>
<text x="430.1" y="2391.5" font-size="36" text-anchor="middle" font-family="DejaVu Sans, sans-serif" letter-spacing="1.5" stroke="#000" stroke-width="0.7">*</text>
<text x="500.0" y="2391.5" font-size="36" text-anchor="middle" font-family="DejaVu Sans, sans-serif" letter-spacing="1.5" stroke="#000" stroke-width="0.7">*</text>
<text x="919.4" y="2391.5" font-size="36" text-anchor="middle" font-family="DejaVu Sans, sans-serif" letter-spacing="1.5" stroke="#000" stroke-width="0.7">**</text>
<text x="1408.8" y="2391.5" font-size="36" text-anchor="middle" font-family="DejaVu Sans, sans-serif" letter-spacing="1.5" stroke="#000" stroke-width="0.7">***</text>
<text x="1478.7" y="2391.5" font-size="36" text-anchor="middle" font-family="DejaVu Sans, sans-serif" letter-spacing="1.5" stroke="#000" stroke-width="0.7">*</text>
<text x="1758.4" y="2391.5" font-size="36" text-anchor="middle" font-family="DejaVu Sans, sans-serif" letter-spacing="1.5" stroke="#000" stroke-width="0.7">*</text>
<line x1="242.8" y1="2456.3" x2="249.0" y2="2456.3" stroke="#333" stroke-width="2" />
<text x="236.4" y="2465.9" font-size="27" text-anchor="end" font-weight="bold" fill="#4d4d4d">IL.6</text>
<text x="639.8" y="2462.3" font-size="36" text-anchor="middle" font-family="DejaVu Sans, sans-serif" letter-spacing="1.5" stroke="#000" stroke-width="0.7">*</text>
<text x="1129.2" y="2462.3" font-size="36" text-anchor="middle" font-family="DejaVu Sans, sans-serif" letter-spacing="1.5" stroke="#000" stroke-width="0.7">*</text>
<text x="1269.0" y="2462.3" font-size="36" text-anchor="middle" font-family="DejaVu Sans, sans-serif" letter-spacing="1.5" stroke="#000" stroke-width="0.7">*</text>
<line x1="242.8" y1="2527.0" x2="249.0" y2="2527.0" stroke="#333" stroke-width="2" />
<text x="236.4" y="2536.6" font-size="27" text-anchor="end" font-weight="bold" fill="#4d4d4d">BMR</text>
<text x="430.1" y="2533.0" font-size="36" text-anchor="middle" font-family="DejaVu Sans, sans-serif" letter-spacing="1.5" stroke="#000" stroke-width="0.7">**</text>
<text x="500.0" y="2533.0" font-size="36" text-anchor="middle" font-family="DejaVu Sans, sans-serif" letter-spacing="1.5" stroke="#000" stroke-width="0.7">**</text>
<text x="709.7" y="2533.0" font-size="36" text-anchor="middle" font-family="DejaVu Sans, sans-serif" letter-spacing="1.5" stroke="#000" stroke-width="0.7">**</text>
<text x="919.4" y="2533.0" font-size="36" text-anchor="middle" font-family="DejaVu Sans, sans-serif" letter-spacing="1.5" stroke="#000" stroke-width="0.7">*</text>
<text x="1408.8" y="2533.0" font-size="36" text-anchor="middle" font-family="DejaVu Sans, sans-serif" letter-spacing="1.5" stroke="#000" stroke-width="0.7">*</text>
<text x="1548.6" y="2533.0" font-size="36" text-anchor="middle" font-family="DejaVu Sans, sans-serif" letter-spacing="1.5" stroke="#000" stroke-width="0.7">**</text>
<text x="1758.4" y="2533.0" font-size="36" text-anchor="middle" font-family="DejaVu Sans, sans-serif" letter-spacing="1.5" stroke="#000" stroke-width="0.7">*</text>
<line x1="290.3" y1="2569.0" x2="290.3" y2="2575.5" stroke="#333" stroke-width="2" />
<text x="304.8" y="2596.0" font-size="27.6" text-anchor="end" font-weight="bold" fill="#4d4d4d" transform="rotate(-45 304.8 2596.0)">Ligilactobacillus</text>
<line x1="360.2" y1="2569.0" x2="360.2" y2="2575.5" stroke="#333" stroke-width="2" />
<text x="374.7" y="2596.0" font-size="27.6" text-anchor="end" font-weight="bold" fill="#4d4d4d" transform="rotate(-45 374.7 2596.0)">Muribaculaceae_norank</text>
<line x1="430.1" y1="2569.0" x2="430.1" y2="2575.5" stroke="#333" stroke-width="2" />
<text x="444.6" y="2596.0" font-size="27.6" text-anchor="end" font-weight="bold" fill="#4d4d4d" transform="rotate(-45 444.6 2596.0)">Akkermansia</text>
<line x1="500.0" y1="2569.0" x2="500.0" y2="2575.5" stroke="#333" stroke-width="2" />
<text x="514.5" y="2596.0" font-size="27.6" text-anchor="end" font-weight="bold" fill="#4d4d4d" transform="rotate(-45 514.5 2596.0)">Lachnospiraceae_NK4A136_group</text>
<line x1="569.9" y1="2569.0" x2="569.9" y2="2575.5" stroke="#333" stroke-width="2" />
<text x="584.4" y="2596.0" font-size="27.6" text-anchor="end" font-weight="bold" fill="#4d4d4d" transform="rotate(-45 584.4 2596.0)">Lachnospiraceae_unclassified</text>
<line x1="639.8" y1="2569.0" x2="639.8" y2="2575.5" stroke="#333" stroke-width="2" />
<text x="654.3" y="2596.0" font-size="27.6" text-anchor="end" font-weight="bold" fill="#4d4d4d" transform="rotate(-45 654.3 2596.0)">Desulfovibrio</text>
<line x1="709.7" y1="2569.0" x2="709.7" y2="2575.5" stroke="#333" stroke-width="2" />
<text x="724.2" y="2596.0" font-size="27.6" text-anchor="end" font-weight="bold" fill="#4d4d4d" transform="rotate(-45 724.2 2596.0)">Clostridia_UCG_014_norank</text>
<line x1="779.6" y1="2569.0" x2="779.6" y2="2575.5" stroke="#333" stroke-width="2" />
<text x="794.1" y="2596.0" font-size="27.6" text-anchor="end" font-weight="bold" fill="#4d4d4d" transform="rotate(-45 794.1 2596.0)">Lactobacillus</text>
<line x1="849.5" y1="2569.0" x2="849.5" y2="2575.5" stroke="#333" stroke-width="2" />
<text x="864.0" y="2596.0" font-size="27.6" text-anchor="end" font-weight="bold" fill="#4d4d4d" transform="rotate(-45 864.0 2596.0)">Prevotellaceae_unclassified</text>
<line x1="919.4" y1="2569.0" x2="919.4" y2="2575.5" stroke="#333" stroke-width="2" />
<text x="933.9" y="2596.0" font-size="27.6" text-anchor="end" font-weight="bold" fill="#4d4d4d" transform="rotate(-45 933.9 2596.0)">Dubosiella</text>
<line x1="989.4" y1="2569.0" x2="989.4" y2="2575.5" stroke="#333" stroke-width="2" />
<text x="1003.9" y="2596.0" font-size="27.6" text-anchor="end" font-weight="bold" fill="#4d4d4d" transform="rotate(-45 1003.9 2596.0)">Lachnospiraceae_uncultured</text>
<line x1="1059.3" y1="2569.0" x2="1059.3" y2="2575.5" stroke="#333" stroke-width="2" />
<text x="1073.8" y="2596.0" font-size="27.6" text-anchor="end" font-weight="bold" fill="#4d4d4d" transform="rotate(-45 1073.8 2596.0)">Lachnoclostridium</text>
<line x1="1129.2" y1="2569.0" x2="1129.2" y2="2575.5" stroke="#333" stroke-width="2" />
<text x="1143.7" y="2596.0" font-size="27.6" text-anchor="end" font-weight="bold" fill="#4d4d4d" transform="rotate(-45 1143.7 2596.0)">Faecalibaculum</text>
<line x1="1199.1" y1="2569.0" x2="1199.1" y2="2575.5" stroke="#333" stroke-width="2" />
<text x="1213.6" y="2596.0" font-size="27.6" text-anchor="end" font-weight="bold" fill="#4d4d4d" transform="rotate(-45 1213.6 2596.0)">Limosilactobacillus</text>
<line x1="1269.0" y1="2569.0" x2="1269.0" y2="2575.5" stroke="#333" stroke-width="2" />
<text x="1283.5" y="2596.0" font-size="27.6" text-anchor="end" font-weight="bold" fill="#4d4d4d" transform="rotate(-45 1283.5 2596.0)">Candidatus_Saccharimonas</text>
<line x1="1338.9" y1="2569.0" x2="1338.9" y2="2575.5" stroke="#333" stroke-width="2" />
<text x="1353.4" y="2596.0" font-size="27.6" text-anchor="end" font-weight="bold" fill="#4d4d4d" transform="rotate(-45 1353.4 2596.0)">Prevotellaceae_UCG_001</text>
<line x1="1408.8" y1="2569.0" x2="1408.8" y2="2575.5" stroke="#333" stroke-width="2" />
<text x="1423.3" y="2596.0" font-size="27.6" text-anchor="end" font-weight="bold" fill="#4d4d4d" transform="rotate(-45 1423.3 2596.0)">Lachnospiraceae_UCG_006</text>
<line x1="1478.7" y1="2569.0" x2="1478.7" y2="2575.5" stroke="#333" stroke-width="2" />
<text x="1493.2" y="2596.0" font-size="27.6" text-anchor="end" font-weight="bold" fill="#4d4d4d" transform="rotate(-45 1493.2 2596.0)">Enterorhabdus</text>
<line x1="1548.6" y1="2569.0" x2="1548.6" y2="2575.5" stroke="#333" stroke-width="2" />
<text x="1563.1" y="2596.0" font-size="27.6" text-anchor="end" font-weight="bold" fill="#4d4d4d" transform="rotate(-45 1563.1 2596.0)">A2</text>
<line x1="1618.5" y1="2569.0" x2="1618.5" y2="2575.5" stroke="#333" stroke-width="2" />
<text x="1633.0" y="2596.0" font-size="27.6" text-anchor="end" font-weight="bold" fill="#4d4d4d" transform="rotate(-45 1633.0 2596.0)">Roseburia</text>
<line x1="1688.5" y1="2569.0" x2="1688.5" y2="2575.5" stroke="#333" stroke-width="2" />
<text x="1703.0" y="2596.0" font-size="27.6" text-anchor="end" font-weight="bold" fill="#4d4d4d" transform="rotate(-45 1703.0 2596.0)">Alistipes</text>
<line x1="1758.4" y1="2569.0" x2="1758.4" y2="2575.5" stroke="#333" stroke-width="2" />
<text x="1772.9" y="2596.0" font-size="27.6" text-anchor="end" font-weight="bold" fill="#4d4d4d" transform="rotate(-45 1772.9 2596.0)">Lachnospiraceae_UCG_001</text>
<line x1="1828.3" y1="2569.0" x2="1828.3" y2="2575.5" stroke="#333" stroke-width="2" />
<text x="1842.8" y="2596.0" font-size="27.6" text-anchor="end" font-weight="bold" fill="#4d4d4d" transform="rotate(-45 1842.8 2596.0)">Oscillospiraceae_uncultured</text>
<line x1="1898.2" y1="2569.0" x2="1898.2" y2="2575.5" stroke="#333" stroke-width="2" />
<text x="1912.7" y="2596.0" font-size="27.6" text-anchor="end" font-weight="bold" fill="#4d4d4d" transform="rotate(-45 1912.7 2596.0)">Alloprevotella</text>
<line x1="1968.1" y1="2569.0" x2="1968.1" y2="2575.5" stroke="#333" stroke-width="2" />
<text x="1982.6" y="2596.0" font-size="27.6" text-anchor="end" font-weight="bold" fill="#4d4d4d" transform="rotate(-45 1982.6 2596.0)">Others</text>
<text x="150.1" y="2313.7" font-size="27.3" text-anchor="middle" font-weight="bold" transform="rotate(-90 150.1 2313.7)">phenotype</text>
<text x="1036.0" y="2954.5" font-size="27.4" font-weight="bold">Gutmicrobiota</text>
<polygon points="503.8,2569.0 536.2,2600.9 198.3,2940.0 166.4,2908.1" fill="none" stroke="#e8141c" stroke-width="3"/>
<polygon points="1412.8,2566.1 1445.2,2598.0 1163.5,2883.2 1130.4,2850.1" fill="none" stroke="#e8141c" stroke-width="3"/>
<polygon points="1749.6,2569.0 1782.6,2602.0 1499.7,2886.1 1466.7,2853.0" fill="none" stroke="#e8141c" stroke-width="3"/>
<defs><linearGradient id="cb" x1="0" y1="0" x2="0" y2="1"><stop offset="0" stop-color="#f2622a"/><stop offset="0.25" stop-color="#fcb08f"/><stop offset="0.5" stop-color="#ffffff"/><stop offset="0.75" stop-color="#a3acd6"/><stop offset="1" stop-color="#2d55a7"/></linearGradient></defs>
<rect x="2047.0" y="2235.0" width="40.9" height="199.7" fill="url(#cb)" />
<line x1="2047.0" y1="2236.7" x2="2055.0" y2="2236.7" stroke="#fff" stroke-width="1.2" />
<line x1="2079.9" y1="2236.7" x2="2087.9" y2="2236.7" stroke="#fff" stroke-width="1.2" />
<text x="2101.0" y="2244.7" font-size="22.5">1.0</text>
<line x1="2047.0" y1="2285.9" x2="2055.0" y2="2285.9" stroke="#fff" stroke-width="1.2" />
<line x1="2079.9" y1="2285.9" x2="2087.9" y2="2285.9" stroke="#fff" stroke-width="1.2" />
<text x="2101.0" y="2293.9" font-size="22.5">0.5</text>
<line x1="2047.0" y1="2335.3" x2="2055.0" y2="2335.3" stroke="#fff" stroke-width="1.2" />
<line x1="2079.9" y1="2335.3" x2="2087.9" y2="2335.3" stroke="#fff" stroke-width="1.2" />
<text x="2101.0" y="2343.3" font-size="22.5">0.0</text>
<line x1="2047.0" y1="2384.5" x2="2055.0" y2="2384.5" stroke="#fff" stroke-width="1.2" />
<line x1="2079.9" y1="2384.5" x2="2087.9" y2="2384.5" stroke="#fff" stroke-width="1.2" />
<text x="2101.0" y="2392.5" font-size="22.5">−0.5</text>
<line x1="2047.0" y1="2433.9" x2="2055.0" y2="2433.9" stroke="#fff" stroke-width="1.2" />
<line x1="2079.9" y1="2433.9" x2="2087.9" y2="2433.9" stroke="#fff" stroke-width="1.2" />
<text x="2101.0" y="2441.9" font-size="22.5">−1.0</text>
<text x="2048.7" y="2217.7" font-size="27.7">spearman_correlation</text>
</svg>
</body></html>
